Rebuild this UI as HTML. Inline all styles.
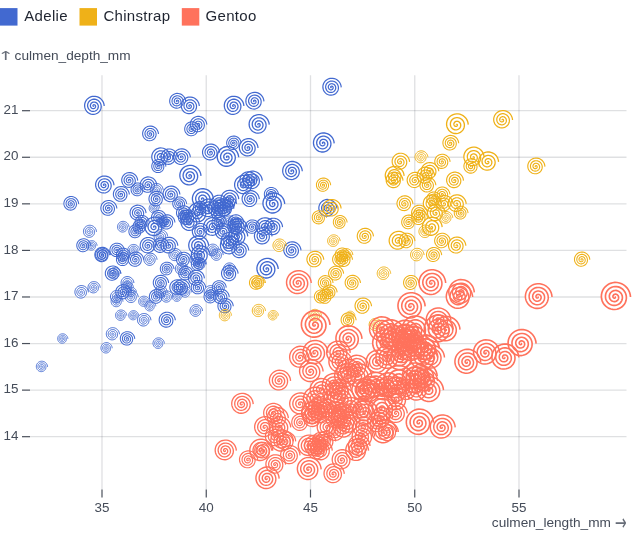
<!DOCTYPE html>
<html lang="en"><head><meta charset="utf-8"><title>Penguins culmen scatter</title>
<style>
html,body{margin:0;padding:0;background:#fff;}
body{width:640px;height:546px;overflow:hidden;font-family:"Liberation Sans", sans-serif;}
svg{display:block;font-family:"Liberation Sans", sans-serif;}
.tick{font-size:13.4px;fill:#454c59;}
.lg{font-size:15px;fill:#1f2430;letter-spacing:0.3px;}
.lab{font-size:13.65px;}
.arr{fill:#676d78;}
.grid line{stroke:#3f4652;stroke-opacity:0.17;stroke-width:1.3;}
.tk line{stroke:#4a505b;stroke-width:1.2;}
.dots use{fill:none;}
</style></head><body>
<svg width="640" height="546" viewBox="0 0 640 546">
<defs><path id="t33" d="M0,0L-0.0007,-0.0046L0,-0.0100L0.0024,-0.0154L0.0066,-0.0203L0.0124,-0.0243L0.0196,-0.0270L0.0280,-0.0280L0.0370,-0.0269L0.0464,-0.0237L0.0557,-0.0181L0.0642,-0.0102L0.0715,0L0.0771,0.0122L0.0806,0.0262L0.0815,0.0415L0.0794,0.0577L0.0742,0.0742L0.0657,0.0904L0.0538,0.1057L0.0388,0.1193L0.0207,0.1307L0,0.1393L-0.0229,0.1445L-0.0474,0.1458L-0.0728,0.1429L-0.0984,0.1355L-0.1234,0.1234L-0.1470,0.1068L-0.1682,0.0857L-0.1864,0.0606L-0.2007,0.0318L-0.2104,0L-0.2150,-0.0340L-0.2139,-0.0695L-0.2069,-0.1054L-0.1938,-0.1408L-0.1745,-0.1745L-0.1494,-0.2056L-0.1187,-0.2330L-0.0831,-0.2558L-0.0432,-0.2729L0,-0.2838L0.0456,-0.2876L0.0923,-0.2840L0.1390,-0.2728L0.1843,-0.2537L0.2271,-0.2271L0.2659,-0.1932L0.2995,-0.1526L0.3269,-0.1062L0.3470,-0.0550L0.3589,0L0.3620,0.0573L0.3558,0.1156L0.3401,0.1733L0.3150,0.2289L0.2807,0.2807L0.2379,0.3274L0.1872,0.3674L0.1298,0.3995L0.0669,0.4225L0,0.4355L-0.0693,0.4378L-0.1394,0.4289L-0.2083,0.4087L-0.2742,0.3774L-0.3354,0.3354L-0.3900,0.2834L-0.4365,0.2224L-0.4734,0.1538L-0.4993,0.0791L-0.5134,0L-0.5148,-0.0815L-0.5032,-0.1635L-0.4784,-0.2438L-0.4408,-0.3202L-0.3908,-0.3908L-0.3295,-0.4536L-0.2581,-0.5066L-0.1781,-0.5482L-0.0914,-0.5772L0,-0.5923L0.0939,-0.5929L0.1880,-0.5785L0.2798,-0.5490L0.3669,-0.5050L0.4470,-0.4470L0.5179,-0.3763L0.5775,-0.2943L0.6241,-0.2028L0.6560,-0.1039L0.6723,0L0.6719,0.1064L0.6547,0.2127L0.6205,0.3162L0.5699,0.4141L0.5039,0.5039L0.4236,0.5830L0.3308,0.6493L0.2277,0.7008L0.1165,0.7358L0,0.7531L-0.1191,0.7518L-0.2377,0.7317L-0.3530,0.6927L-0.4618,0.6356L-0.5613,0.5613L-0.6488,0.4714L-0.7218,0.3678L-0.7782,0.2529L-0.8163,0.1293L-0.8347,0L-0.8325,-0.1319L-0.8094,-0.2630L-0.7656,-0.3901L-0.7018,-0.5099L-0.6192,-0.6192L-0.5196,-0.7151L-0.4051,-0.7950L-0.2783,-0.8564L-0.1422,-0.8975L0,-0.9170L0.1447,-0.9139L0.2885,-0.8878L0.4276,-0.8392L0.5585,-0.7687L0.6777,-0.6777L0.7821,-0.5682L0.8688,-0.4427L0.9352,-0.3039L0.9795,-0.1551L1.0000,0"/><path id="t34" d="M0,0L-0.0032,-0.0032L-0.0057,-0.0078L-0.0068,-0.0134L-0.0064,-0.0197L-0.0041,-0.0261L0,-0.0323L0.0060,-0.0378L0.0137,-0.0421L0.0229,-0.0449L0.0333,-0.0458L0.0445,-0.0445L0.0560,-0.0407L0.0673,-0.0343L0.0780,-0.0253L0.0874,-0.0138L0.0950,0L0.1003,0.0159L0.1028,0.0334L0.1022,0.0521L0.0982,0.0714L0.0906,0.0906L0.0792,0.1091L0.0643,0.1262L0.0458,0.1411L0.0243,0.1533L0,0.1620L-0.0264,0.1668L-0.0543,0.1672L-0.0829,0.1628L-0.1115,0.1534L-0.1390,0.1390L-0.1647,0.1197L-0.1877,0.0956L-0.2070,0.0673L-0.2219,0.0351L-0.2318,0L-0.2359,-0.0374L-0.2339,-0.0760L-0.2255,-0.1149L-0.2105,-0.1530L-0.1891,-0.1891L-0.1614,-0.2221L-0.1279,-0.2511L-0.0893,-0.2749L-0.0463,-0.2926L0,-0.3035L0.0486,-0.3069L0.0983,-0.3025L0.1477,-0.2899L0.1955,-0.2691L0.2404,-0.2404L0.2810,-0.2041L0.3160,-0.1610L0.3443,-0.1119L0.3649,-0.0578L0.3768,0L0.3795,0.0601L0.3725,0.1210L0.3556,0.1812L0.3289,0.2389L0.2927,0.2927L0.2477,0.3410L0.1947,0.3822L0.1349,0.4151L0.0694,0.4385L0,0.4514L-0.0718,0.4533L-0.1442,0.4437L-0.2152,0.4224L-0.2831,0.3896L-0.3459,0.3459L-0.4019,0.2920L-0.4494,0.2290L-0.4869,0.1582L-0.5132,0.0813L-0.5272,0L-0.5283,-0.0837L-0.5160,-0.1676L-0.4902,-0.2498L-0.4513,-0.3279L-0.3999,-0.3999L-0.3369,-0.4637L-0.2637,-0.5176L-0.1819,-0.5598L-0.0933,-0.5890L0,-0.6040L0.0957,-0.6042L0.1914,-0.5892L0.2848,-0.5589L0.3732,-0.5137L0.4545,-0.4545L0.5263,-0.3824L0.5866,-0.2989L0.6335,-0.2058L0.6656,-0.1054L0.6817,0L0.6810,0.1079L0.6632,0.2155L0.6283,0.3201L0.5769,0.4191L0.5097,0.5097L0.4283,0.5896L0.3344,0.6563L0.2301,0.7080L0.1177,0.7431L0,0.7602L-0.1202,0.7587L-0.2398,0.7380L-0.3559,0.6985L-0.4654,0.6406L-0.5655,0.5655L-0.6534,0.4748L-0.7267,0.3703L-0.7833,0.2545L-0.8213,0.1301L-0.8395,0L-0.8370,-0.1326L-0.8135,-0.2643L-0.7693,-0.3920L-0.7050,-0.5122L-0.6218,-0.6218L-0.5216,-0.7179L-0.4065,-0.7978L-0.2792,-0.8592L-0.1426,-0.9002L0,-0.9194L0.1451,-0.9160L0.2891,-0.8897L0.4284,-0.8407L0.5593,-0.7698L0.6786,-0.6786L0.7829,-0.5688L0.8694,-0.4430L0.9357,-0.3040L0.9797,-0.1552L1.0000,0"/><path id="t35" d="M0,0L-0.0043,-0.0007L-0.0089,-0.0029L-0.0130,-0.0066L-0.0162,-0.0118L-0.0181,-0.0181L-0.0184,-0.0253L-0.0168,-0.0330L-0.0133,-0.0408L-0.0076,-0.0483L0,-0.0549L0.0095,-0.0602L0.0207,-0.0638L0.0332,-0.0652L0.0467,-0.0643L0.0606,-0.0606L0.0744,-0.0541L0.0876,-0.0446L0.0996,-0.0324L0.1098,-0.0174L0.1176,0L0.1226,0.0194L0.1242,0.0404L0.1222,0.0623L0.1163,0.0845L0.1063,0.1063L0.0922,0.1270L0.0743,0.1458L0.0526,0.1619L0.0277,0.1748L0,0.1837L-0.0298,0.1881L-0.0609,0.1876L-0.0926,0.1818L-0.1239,0.1705L-0.1539,0.1539L-0.1816,0.1320L-0.2061,0.1050L-0.2266,0.0736L-0.2421,0.0383L-0.2521,0L-0.2558,-0.0405L-0.2530,-0.0822L-0.2432,-0.1239L-0.2265,-0.1645L-0.2029,-0.2029L-0.1728,-0.2378L-0.1367,-0.2682L-0.0952,-0.2930L-0.0493,-0.3112L0,-0.3222L0.0515,-0.3252L0.1040,-0.3199L0.1560,-0.3061L0.2061,-0.2837L0.2530,-0.2530L0.2953,-0.2145L0.3316,-0.1690L0.3608,-0.1172L0.3818,-0.0605L0.3938,0L0.3960,0.0627L0.3882,0.1261L0.3702,0.1886L0.3420,0.2485L0.3041,0.3041L0.2570,0.3538L0.2018,0.3961L0.1396,0.4298L0.0718,0.4535L0,0.4665L-0.0741,0.4680L-0.1487,0.4576L-0.2218,0.4353L-0.2915,0.4012L-0.3559,0.3559L-0.4132,0.3002L-0.4616,0.2352L-0.4998,0.1624L-0.5263,0.0834L-0.5403,0L-0.5410,-0.0857L-0.5280,-0.1716L-0.5013,-0.2554L-0.4612,-0.3351L-0.4084,-0.4084L-0.3439,-0.4733L-0.2690,-0.5280L-0.1854,-0.5707L-0.0950,-0.6001L0,-0.6151L0.0974,-0.6149L0.1947,-0.5993L0.2895,-0.5682L0.3792,-0.5220L0.4616,-0.4616L0.5342,-0.3881L0.5951,-0.3032L0.6424,-0.2087L0.6746,-0.1069L0.6907,0L0.6897,0.1092L0.6713,0.2181L0.6357,0.3239L0.5834,0.4239L0.5153,0.5153L0.4328,0.5957L0.3378,0.6629L0.2323,0.7149L0.1188,0.7500L0,0.7670L-0.1212,0.7651L-0.2418,0.7441L-0.3587,0.7039L-0.4689,0.6454L-0.5695,0.5695L-0.6578,0.4779L-0.7314,0.3727L-0.7880,0.2560L-0.8260,0.1308L-0.8440,0L-0.8413,-0.1332L-0.8175,-0.2656L-0.7727,-0.3937L-0.7079,-0.5143L-0.6242,-0.6242L-0.5235,-0.7205L-0.4078,-0.8004L-0.2800,-0.8618L-0.1430,-0.9027L0,-0.9217L0.1454,-0.9181L0.2896,-0.8914L0.4291,-0.8421L0.5601,-0.7710L0.6794,-0.6794L0.7836,-0.5693L0.8700,-0.4433L0.9361,-0.3042L0.9799,-0.1552L1.0000,0"/><path id="t36" d="M0,0L-0.0038,0.0019L-0.0086,0.0028L-0.0140,0.0022L-0.0194,0L-0.0245,-0.0039L-0.0288,-0.0094L-0.0320,-0.0163L-0.0337,-0.0245L-0.0335,-0.0335L-0.0313,-0.0430L-0.0268,-0.0526L-0.0201,-0.0618L-0.0111,-0.0701L0,-0.0770L0.0130,-0.0821L0.0276,-0.0848L0.0433,-0.0850L0.0597,-0.0821L0.0762,-0.0762L0.0922,-0.0670L0.1072,-0.0546L0.1204,-0.0391L0.1313,-0.0208L0.1393,0L0.1439,0.0228L0.1447,0.0470L0.1413,0.0720L0.1335,0.0970L0.1213,0.1213L0.1047,0.1441L0.0838,0.1645L0.0591,0.1818L0.0309,0.1953L0,0.2044L-0.0330,0.2084L-0.0673,0.2070L-0.1018,0.1998L-0.1358,0.1869L-0.1681,0.1681L-0.1977,0.1436L-0.2237,0.1140L-0.2452,0.0797L-0.2614,0.0414L-0.2714,0L-0.2748,-0.0435L-0.2710,-0.0881L-0.2600,-0.1325L-0.2416,-0.1755L-0.2160,-0.2160L-0.1836,-0.2527L-0.1449,-0.2845L-0.1008,-0.3102L-0.0521,-0.3289L0,-0.3400L0.0543,-0.3426L0.1093,-0.3365L0.1638,-0.3215L0.2162,-0.2975L0.2650,-0.2650L0.3088,-0.2244L0.3464,-0.1765L0.3764,-0.1223L0.3978,-0.0630L0.4098,0L0.4117,0.0652L0.4032,0.1310L0.3840,0.1957L0.3544,0.2575L0.3148,0.3148L0.2658,0.3659L0.2086,0.4093L0.1442,0.4437L0.0741,0.4678L0,0.4808L-0.0763,0.4819L-0.1530,0.4709L-0.2280,0.4475L-0.2994,0.4122L-0.3653,0.3653L-0.4238,0.3079L-0.4732,0.2411L-0.5119,0.1663L-0.5388,0.0853L-0.5527,0L-0.5531,-0.0876L-0.5395,-0.1753L-0.5119,-0.2608L-0.4706,-0.3419L-0.4165,-0.4165L-0.3505,-0.4824L-0.2740,-0.5378L-0.1888,-0.5810L-0.0967,-0.6106L0,-0.6255L0.0990,-0.6251L0.1978,-0.6088L0.2940,-0.5769L0.3849,-0.5298L0.4683,-0.4683L0.5417,-0.3936L0.6032,-0.3073L0.6508,-0.2115L0.6832,-0.1082L0.6991,0L0.6978,0.1105L0.6790,0.2206L0.6427,0.3275L0.5896,0.4283L0.5205,0.5205L0.4371,0.6016L0.3410,0.6692L0.2344,0.7214L0.1198,0.7565L0,0.7734L-0.1222,0.7712L-0.2436,0.7497L-0.3613,0.7091L-0.4722,0.6499L-0.5733,0.5733L-0.6620,0.4810L-0.7358,0.3749L-0.7925,0.2575L-0.8305,0.1315L-0.8483,0L-0.8453,-0.1339L-0.8211,-0.2668L-0.7760,-0.3954L-0.7107,-0.5164L-0.6265,-0.6265L-0.5252,-0.7229L-0.4091,-0.8029L-0.2808,-0.8642L-0.1433,-0.9050L0,-0.9239L0.1457,-0.9200L0.2902,-0.8931L0.4298,-0.8435L0.5609,-0.7720L0.6801,-0.6801L0.7843,-0.5699L0.8706,-0.4436L0.9365,-0.3043L0.9801,-0.1552L1.0000,0"/><path id="t37" d="M0,0L-0.0019,0.0037L-0.0052,0.0071L-0.0097,0.0097L-0.0152,0.0111L-0.0215,0.0109L-0.0280,0.0091L-0.0344,0.0055L-0.0404,0L-0.0454,-0.0072L-0.0491,-0.0159L-0.0511,-0.0260L-0.0510,-0.0371L-0.0487,-0.0487L-0.0439,-0.0605L-0.0366,-0.0718L-0.0267,-0.0823L-0.0145,-0.0914L0,-0.0985L0.0164,-0.1033L0.0342,-0.1052L0.0530,-0.1040L0.0722,-0.0994L0.0912,-0.0912L0.1094,-0.0795L0.1260,-0.0642L0.1404,-0.0456L0.1520,-0.0241L0.1602,0L0.1644,0.0260L0.1643,0.0534L0.1596,0.0813L0.1501,0.1090L0.1357,0.1357L0.1166,0.1604L0.0929,0.1824L0.0653,0.2008L0.0340,0.2150L0,0.2241L-0.0361,0.2278L-0.0733,0.2255L-0.1106,0.2171L-0.1471,0.2024L-0.1816,0.1816L-0.2130,0.1548L-0.2405,0.1225L-0.2630,0.0855L-0.2797,0.0443L-0.2898,0L-0.2928,-0.0464L-0.2883,-0.0937L-0.2760,-0.1406L-0.2560,-0.1860L-0.2285,-0.2285L-0.1939,-0.2669L-0.1528,-0.2999L-0.1061,-0.3265L-0.0548,-0.3458L0,-0.3568L0.0569,-0.3591L0.1145,-0.3523L0.1712,-0.3361L0.2257,-0.3107L0.2764,-0.2764L0.3217,-0.2337L0.3604,-0.1836L0.3912,-0.1271L0.4131,-0.0654L0.4251,0L0.4266,0.0676L0.4174,0.1356L0.3972,0.2024L0.3662,0.2661L0.3250,0.3250L0.2742,0.3774L0.2149,0.4219L0.1485,0.4569L0.0762,0.4814L0,0.4943L-0.0784,0.4951L-0.1571,0.4834L-0.2339,0.4591L-0.3070,0.4225L-0.3743,0.3743L-0.4339,0.3152L-0.4841,0.2467L-0.5234,0.1701L-0.5506,0.0872L-0.5645,0L-0.5645,-0.0894L-0.5503,-0.1788L-0.5218,-0.2659L-0.4796,-0.3484L-0.4242,-0.4242L-0.3568,-0.4910L-0.2788,-0.5471L-0.1920,-0.5908L-0.0983,-0.6206L0,-0.6354L0.1005,-0.6346L0.2008,-0.6179L0.2982,-0.5853L0.3903,-0.5372L0.4746,-0.4746L0.5488,-0.3987L0.6108,-0.3112L0.6588,-0.2141L0.6913,-0.1095L0.7071,0L0.7055,0.1117L0.6862,0.2230L0.6493,0.3308L0.5954,0.4326L0.5255,0.5255L0.4411,0.6071L0.3440,0.6751L0.2364,0.7275L0.1208,0.7627L0,0.7794L-0.1231,0.7770L-0.2454,0.7551L-0.3638,0.7139L-0.4753,0.6541L-0.5769,0.5769L-0.6659,0.4838L-0.7399,0.3770L-0.7968,0.2589L-0.8347,0.1322L-0.8524,0L-0.8491,-0.1345L-0.8246,-0.2679L-0.7791,-0.3970L-0.7133,-0.5183L-0.6287,-0.6287L-0.5269,-0.7252L-0.4103,-0.8053L-0.2816,-0.8666L-0.1437,-0.9072L0,-0.9259L0.1460,-0.9218L0.2907,-0.8947L0.4304,-0.8448L0.5616,-0.7730L0.6809,-0.6809L0.7850,-0.5703L0.8712,-0.4439L0.9369,-0.3044L0.9803,-0.1553L1.0000,0"/><path id="t38" d="M0,0L0.0006,0.0039L0,0.0085L-0.0021,0.0132L-0.0057,0.0174L-0.0106,0.0208L-0.0168,0.0231L-0.0239,0.0239L-0.0317,0.0230L-0.0398,0.0203L-0.0477,0.0155L-0.0550,0.0087L-0.0612,0L-0.0661,-0.0105L-0.0690,-0.0224L-0.0698,-0.0355L-0.0680,-0.0494L-0.0635,-0.0635L-0.0562,-0.0774L-0.0461,-0.0905L-0.0332,-0.1022L-0.0177,-0.1120L0,-0.1193L0.0196,-0.1237L0.0406,-0.1249L0.0623,-0.1223L0.0843,-0.1160L0.1057,-0.1057L0.1258,-0.0914L0.1440,-0.0734L0.1596,-0.0519L0.1718,-0.0272L0.1802,0L0.1841,0.0292L0.1831,0.0595L0.1771,0.0903L0.1659,0.1205L0.1494,0.1494L0.1279,0.1761L0.1017,0.1995L0.0712,0.2190L0.0370,0.2337L0,0.2430L-0.0390,0.2463L-0.0790,0.2432L-0.1190,0.2336L-0.1578,0.2173L-0.1944,0.1944L-0.2277,0.1654L-0.2565,0.1307L-0.2799,0.0910L-0.2971,0.0471L-0.3073,0L-0.3100,-0.0491L-0.3047,-0.0990L-0.2912,-0.1484L-0.2697,-0.1960L-0.2404,-0.2404L-0.2037,-0.2803L-0.1603,-0.3146L-0.1112,-0.3421L-0.0573,-0.3618L0,-0.3729L0.0594,-0.3749L0.1193,-0.3673L0.1783,-0.3500L0.2348,-0.3232L0.2872,-0.2872L0.3340,-0.2426L0.3738,-0.1904L0.4053,-0.1317L0.4275,-0.0677L0.4396,0L0.4408,0.0698L0.4309,0.1400L0.4097,0.2087L0.3774,0.2742L0.3347,0.3347L0.2822,0.3884L0.2210,0.4338L0.1525,0.4694L0.0783,0.4942L0,0.5072L-0.0804,0.5077L-0.1609,0.4953L-0.2395,0.4701L-0.3142,0.4324L-0.3828,0.3828L-0.4435,0.3222L-0.4945,0.2520L-0.5344,0.1736L-0.5617,0.0890L-0.5756,0L-0.5753,-0.0911L-0.5606,-0.1821L-0.5313,-0.2707L-0.4880,-0.3546L-0.4314,-0.4314L-0.3627,-0.4992L-0.2833,-0.5560L-0.1950,-0.6000L-0.0998,-0.6300L0,-0.6448L0.1020,-0.6437L0.2036,-0.6265L0.3022,-0.5931L0.3954,-0.5442L0.4806,-0.4806L0.5555,-0.4036L0.6180,-0.3149L0.6664,-0.2165L0.6990,-0.1107L0.7147,0L0.7128,0.1129L0.6931,0.2252L0.6556,0.3340L0.6009,0.4366L0.5302,0.5302L0.4449,0.6124L0.3468,0.6807L0.2383,0.7333L0.1217,0.7685L0,0.7852L-0.1239,0.7825L-0.2470,0.7602L-0.3661,0.7185L-0.4782,0.6582L-0.5803,0.5803L-0.6697,0.4865L-0.7439,0.3790L-0.8008,0.2602L-0.8387,0.1328L-0.8563,0L-0.8528,-0.1351L-0.8279,-0.2690L-0.7820,-0.3985L-0.7159,-0.5201L-0.6307,-0.6307L-0.5285,-0.7274L-0.4115,-0.8075L-0.2823,-0.8688L-0.1440,-0.9094L0,-0.9279L0.1463,-0.9236L0.2912,-0.8961L0.4310,-0.8460L0.5623,-0.7740L0.6816,-0.6816L0.7856,-0.5708L0.8717,-0.4441L0.9373,-0.3045L0.9805,-0.1553L1.0000,0"/><path id="t39" d="M0,0L0.0027,0.0027L0.0049,0.0067L0.0059,0.0115L0.0055,0.0169L0.0036,0.0224L0,0.0278L-0.0051,0.0325L-0.0118,0.0362L-0.0197,0.0386L-0.0286,0.0394L-0.0382,0.0382L-0.0482,0.0350L-0.0579,0.0295L-0.0671,0.0218L-0.0751,0.0119L-0.0817,0L-0.0862,-0.0137L-0.0884,-0.0287L-0.0879,-0.0448L-0.0845,-0.0614L-0.0779,-0.0779L-0.0681,-0.0938L-0.0553,-0.1085L-0.0394,-0.1213L-0.0209,-0.1318L0,-0.1393L0.0227,-0.1434L0.0467,-0.1438L0.0713,-0.1400L0.0959,-0.1319L0.1195,-0.1195L0.1416,-0.1029L0.1614,-0.0822L0.1780,-0.0578L0.1908,-0.0302L0.1993,0L0.2029,0.0321L0.2012,0.0654L0.1939,0.0988L0.1810,0.1315L0.1626,0.1626L0.1388,0.1910L0.1100,0.2159L0.0768,0.2364L0.0399,0.2516L0,0.2610L-0.0418,0.2639L-0.0845,0.2601L-0.1270,0.2493L-0.1681,0.2314L-0.2067,0.2067L-0.2416,0.1755L-0.2717,0.1385L-0.2961,0.0962L-0.3137,0.0497L-0.3240,0L-0.3263,-0.0517L-0.3203,-0.1041L-0.3058,-0.1558L-0.2828,-0.2055L-0.2517,-0.2517L-0.2130,-0.2932L-0.1674,-0.3286L-0.1160,-0.3569L-0.0597,-0.3770L0,-0.3882L0.0617,-0.3898L0.1240,-0.3815L0.1851,-0.3632L0.2434,-0.3351L0.2975,-0.2975L0.3456,-0.2511L0.3865,-0.1969L0.4187,-0.1361L0.4413,-0.0699L0.4534,0L0.4543,0.0720L0.4437,0.1442L0.4215,0.2148L0.3881,0.2820L0.3439,0.3439L0.2897,0.3988L0.2268,0.4451L0.1564,0.4814L0.0802,0.5065L0,0.5194L-0.0823,0.5196L-0.1646,0.5066L-0.2449,0.4806L-0.3210,0.4418L-0.3908,0.3908L-0.4526,0.3288L-0.5044,0.2570L-0.5448,0.1770L-0.5724,0.0907L-0.5862,0L-0.5856,-0.0928L-0.5703,-0.1853L-0.5403,-0.2753L-0.4960,-0.3604L-0.4383,-0.4383L-0.3683,-0.5070L-0.2876,-0.5644L-0.1978,-0.6088L-0.1012,-0.6390L0,-0.6537L0.1033,-0.6524L0.2062,-0.6347L0.3060,-0.6006L0.4002,-0.5509L0.4863,-0.4863L0.5619,-0.4082L0.6249,-0.3184L0.6735,-0.2188L0.7062,-0.1119L0.7219,0L0.7198,0.1140L0.6996,0.2273L0.6615,0.3371L0.6062,0.4404L0.5347,0.5347L0.4485,0.6173L0.3495,0.6860L0.2401,0.7388L0.1226,0.7741L0,0.7906L-0.1248,0.7877L-0.2486,0.7651L-0.3683,0.7229L-0.4810,0.6620L-0.5835,0.5835L-0.6732,0.4891L-0.7476,0.3809L-0.8046,0.2614L-0.8425,0.1334L-0.8599,0L-0.8562,-0.1356L-0.8311,-0.2700L-0.7848,-0.3999L-0.7182,-0.5218L-0.6327,-0.6327L-0.5300,-0.7295L-0.4126,-0.8097L-0.2830,-0.8709L-0.1443,-0.9114L0,-0.9297L0.1465,-0.9252L0.2916,-0.8975L0.4316,-0.8471L0.5630,-0.7749L0.6822,-0.6822L0.7862,-0.5712L0.8722,-0.4444L0.9377,-0.3047L0.9807,-0.1553L1.0000,0"/><path id="t40" d="M0,0L0.0037,0.0006L0.0077,0.0025L0.0112,0.0057L0.0140,0.0102L0.0156,0.0156L0.0159,0.0218L0.0145,0.0285L0.0115,0.0352L0.0066,0.0417L0,0.0474L-0.0082,0.0520L-0.0179,0.0551L-0.0287,0.0563L-0.0403,0.0555L-0.0523,0.0523L-0.0643,0.0467L-0.0757,0.0385L-0.0860,0.0279L-0.0948,0.0150L-0.1015,0L-0.1058,-0.0168L-0.1072,-0.0348L-0.1055,-0.0538L-0.1004,-0.0729L-0.0918,-0.0918L-0.0796,-0.1096L-0.0641,-0.1258L-0.0454,-0.1398L-0.0239,-0.1509L0,-0.1586L0.0257,-0.1624L0.0526,-0.1619L0.0800,-0.1569L0.1070,-0.1472L0.1329,-0.1329L0.1568,-0.1139L0.1780,-0.0907L0.1956,-0.0636L0.2091,-0.0331L0.2176,0L0.2209,0.0350L0.2184,0.0710L0.2100,0.1070L0.1955,0.1421L0.1752,0.1752L0.1492,0.2053L0.1180,0.2316L0.0822,0.2530L0.0426,0.2687L0,0.2782L-0.0445,0.2808L-0.0898,0.2762L-0.1347,0.2643L-0.1780,0.2449L-0.2184,0.2184L-0.2549,0.1852L-0.2863,0.1459L-0.3115,0.1012L-0.3296,0.0522L-0.3400,0L-0.3419,-0.0542L-0.3352,-0.1089L-0.3196,-0.1629L-0.2953,-0.2145L-0.2625,-0.2625L-0.2219,-0.3054L-0.1743,-0.3420L-0.1206,-0.3711L-0.0620,-0.3916L0,-0.4028L0.0640,-0.4041L0.1284,-0.3951L0.1915,-0.3758L0.2517,-0.3464L0.3073,-0.3073L0.3567,-0.2592L0.3986,-0.2031L0.4315,-0.1402L0.4544,-0.0720L0.4665,0L0.4671,0.0740L0.4559,0.1481L0.4328,0.2205L0.3982,0.2893L0.3526,0.3526L0.2969,0.4087L0.2323,0.4558L0.1601,0.4927L0.0821,0.5181L0,0.5310L-0.0841,0.5309L-0.1681,0.5174L-0.2499,0.4905L-0.3274,0.4507L-0.3985,0.3985L-0.4612,0.3351L-0.5138,0.2618L-0.5547,0.1802L-0.5825,0.0923L-0.5963,0L-0.5954,-0.0943L-0.5796,-0.1883L-0.5489,-0.2797L-0.5037,-0.3660L-0.4449,-0.4449L-0.3737,-0.5144L-0.2916,-0.5724L-0.2005,-0.6172L-0.1026,-0.6475L0,-0.6622L0.1046,-0.6606L0.2087,-0.6424L0.3097,-0.6078L0.4048,-0.5572L0.4917,-0.4917L0.5680,-0.4127L0.6315,-0.3218L0.6804,-0.2211L0.7132,-0.1130L0.7287,0L0.7264,0.1150L0.7058,0.2293L0.6672,0.3399L0.6112,0.4441L0.5390,0.5390L0.4520,0.6221L0.3521,0.6911L0.2418,0.7441L0.1234,0.7794L0,0.7958L-0.1255,0.7927L-0.2501,0.7697L-0.3705,0.7271L-0.4836,0.6656L-0.5866,0.5866L-0.6766,0.4916L-0.7512,0.3827L-0.8082,0.2626L-0.8461,0.1340L-0.8634,0L-0.8595,-0.1361L-0.8340,-0.2710L-0.7874,-0.4012L-0.7205,-0.5235L-0.6345,-0.6345L-0.5315,-0.7315L-0.4136,-0.8117L-0.2836,-0.8729L-0.1446,-0.9133L0,-0.9315L0.1468,-0.9267L0.2921,-0.8989L0.4322,-0.8482L0.5636,-0.7757L0.6828,-0.6828L0.7868,-0.5716L0.8726,-0.4446L0.9380,-0.3048L0.9809,-0.1554L1.0000,0"/><path id="t41" d="M0,0L0.0033,-0.0017L0.0075,-0.0024L0.0121,-0.0019L0.0168,0L0.0212,0.0034L0.0250,0.0081L0.0277,0.0141L0.0292,0.0212L0.0290,0.0290L0.0271,0.0373L0.0232,0.0456L0.0174,0.0536L0.0096,0.0608L0,0.0667L-0.0113,0.0711L-0.0239,0.0735L-0.0375,0.0736L-0.0517,0.0712L-0.0660,0.0660L-0.0799,0.0581L-0.0929,0.0473L-0.1044,0.0339L-0.1138,0.0180L-0.1208,0L-0.1247,-0.0198L-0.1254,-0.0407L-0.1225,-0.0624L-0.1157,-0.0841L-0.1051,-0.1051L-0.0907,-0.1249L-0.0726,-0.1426L-0.0512,-0.1576L-0.0268,-0.1693L0,-0.1771L0.0286,-0.1806L0.0583,-0.1794L0.0883,-0.1732L0.1177,-0.1620L0.1457,-0.1457L0.1714,-0.1245L0.1939,-0.0988L0.2125,-0.0691L0.2265,-0.0359L0.2352,0L0.2381,0.0377L0.2349,0.0763L0.2254,0.1148L0.2094,0.1521L0.1872,0.1872L0.1591,0.2190L0.1256,0.2465L0.0873,0.2688L0.0452,0.2851L0,0.2946L-0.0470,0.2970L-0.0948,0.2917L-0.1420,0.2786L-0.1874,0.2579L-0.2297,0.2297L-0.2677,0.1945L-0.3002,0.1530L-0.3262,0.1060L-0.3448,0.0546L-0.3552,0L-0.3569,-0.0565L-0.3494,-0.1135L-0.3328,-0.1696L-0.3072,-0.2232L-0.2728,-0.2728L-0.2304,-0.3171L-0.1808,-0.3548L-0.1249,-0.3845L-0.0642,-0.4055L0,-0.4167L0.0662,-0.4177L0.1326,-0.4081L0.1976,-0.3879L0.2595,-0.3572L0.3166,-0.3166L0.3673,-0.2669L0.4101,-0.2090L0.4437,-0.1442L0.4670,-0.0740L0.4790,0L0.4793,0.0759L0.4675,0.1519L0.4436,0.2260L0.4079,0.2964L0.3610,0.3610L0.3038,0.4181L0.2375,0.4661L0.1636,0.5036L0.0838,0.5292L0,0.5421L-0.0858,0.5417L-0.1715,0.5277L-0.2548,0.5000L-0.3336,0.4592L-0.4058,0.4058L-0.4695,0.3411L-0.5228,0.2664L-0.5641,0.1833L-0.5921,0.0938L-0.6059,0L-0.6048,-0.0958L-0.5885,-0.1912L-0.5570,-0.2838L-0.5110,-0.3712L-0.4512,-0.4512L-0.3788,-0.5214L-0.2955,-0.5800L-0.2031,-0.6252L-0.1038,-0.6557L0,-0.6703L0.1059,-0.6684L0.2111,-0.6498L0.3131,-0.6145L0.4092,-0.5632L0.4969,-0.4969L0.5738,-0.4169L0.6377,-0.3249L0.6869,-0.2232L0.7198,-0.1140L0.7353,0L0.7326,0.1160L0.7117,0.2312L0.6726,0.3427L0.6160,0.4475L0.5430,0.5430L0.4552,0.6266L0.3546,0.6959L0.2434,0.7490L0.1242,0.7844L0,0.8007L-0.1263,0.7974L-0.2515,0.7741L-0.3725,0.7310L-0.4861,0.6691L-0.5895,0.5895L-0.6798,0.4939L-0.7546,0.3845L-0.8117,0.2637L-0.8495,0.1345L-0.8667,0L-0.8626,-0.1366L-0.8369,-0.2719L-0.7900,-0.4025L-0.7226,-0.5250L-0.6363,-0.6363L-0.5328,-0.7334L-0.4146,-0.8136L-0.2842,-0.8748L-0.1449,-0.9151L0,-0.9331L0.1470,-0.9282L0.2925,-0.9002L0.4327,-0.8493L0.5642,-0.7765L0.6834,-0.6834L0.7873,-0.5720L0.8731,-0.4449L0.9383,-0.3049L0.9811,-0.1554L1.0000,0"/></defs>
<rect x="0" y="8.1" width="17.5" height="17.5" fill="#4269d0"/>
<text class="lg" x="24.3" y="21.3">Adelie</text>
<rect x="79.5" y="8.1" width="17.5" height="17.5" fill="#efb118"/>
<text class="lg" x="103.4" y="21.3">Chinstrap</text>
<rect x="181.8" y="8.1" width="17.5" height="17.5" fill="#ff725c"/>
<text class="lg" x="205.6" y="21.3">Gentoo</text>
<text class="tick lab" x="14.6" y="60.1">culmen_depth_mm</text>
<text class="tick arr" transform="translate(5.3,60) scale(1.5,0.93)" text-anchor="middle" font-family="DejaVu Sans, sans-serif" font-size="13">↑</text>
<g class="grid">
<line x1="30" x2="626.5" y1="436.69" y2="436.69"/>
<line x1="30" x2="626.5" y1="390.12" y2="390.12"/>
<line x1="30" x2="626.5" y1="343.55" y2="343.55"/>
<line x1="30" x2="626.5" y1="296.98" y2="296.98"/>
<line x1="30" x2="626.5" y1="250.41" y2="250.41"/>
<line x1="30" x2="626.5" y1="203.84" y2="203.84"/>
<line x1="30" x2="626.5" y1="157.27" y2="157.27"/>
<line x1="30" x2="626.5" y1="110.70" y2="110.70"/>
<line y1="75.3" y2="489.5" x1="102.00" x2="102.00"/>
<line y1="75.3" y2="489.5" x1="206.25" x2="206.25"/>
<line y1="75.3" y2="489.5" x1="310.50" x2="310.50"/>
<line y1="75.3" y2="489.5" x1="414.75" x2="414.75"/>
<line y1="75.3" y2="489.5" x1="519.00" x2="519.00"/>
</g>
<g class="tk">
<line x1="22" x2="30" y1="436.69" y2="436.69"/>
<line x1="22" x2="30" y1="390.12" y2="390.12"/>
<line x1="22" x2="30" y1="343.55" y2="343.55"/>
<line x1="22" x2="30" y1="296.98" y2="296.98"/>
<line x1="22" x2="30" y1="250.41" y2="250.41"/>
<line x1="22" x2="30" y1="203.84" y2="203.84"/>
<line x1="22" x2="30" y1="157.27" y2="157.27"/>
<line x1="22" x2="30" y1="110.70" y2="110.70"/>
<line y1="489.5" y2="497.5" x1="102.00" x2="102.00"/>
<line y1="489.5" y2="497.5" x1="206.25" x2="206.25"/>
<line y1="489.5" y2="497.5" x1="310.50" x2="310.50"/>
<line y1="489.5" y2="497.5" x1="414.75" x2="414.75"/>
<line y1="489.5" y2="497.5" x1="519.00" x2="519.00"/>
</g>
<text class="tick" x="18.5" y="439.89" text-anchor="end">14</text>
<text class="tick" x="18.5" y="393.32" text-anchor="end">15</text>
<text class="tick" x="18.5" y="346.75" text-anchor="end">16</text>
<text class="tick" x="18.5" y="300.18" text-anchor="end">17</text>
<text class="tick" x="18.5" y="253.61" text-anchor="end">18</text>
<text class="tick" x="18.5" y="207.04" text-anchor="end">19</text>
<text class="tick" x="18.5" y="160.47" text-anchor="end">20</text>
<text class="tick" x="18.5" y="113.90" text-anchor="end">21</text>
<text class="tick" x="102.00" y="511.6" text-anchor="middle">35</text>
<text class="tick" x="206.25" y="511.6" text-anchor="middle">40</text>
<text class="tick" x="310.50" y="511.6" text-anchor="middle">45</text>
<text class="tick" x="414.75" y="511.6" text-anchor="middle">50</text>
<text class="tick" x="519.00" y="511.6" text-anchor="middle">55</text>
<text class="tick lab" x="610.9" y="527" text-anchor="end">culmen_length_mm</text>
<text class="tick arr" transform="translate(620.8,529.8) scale(1.05,1.65)" text-anchor="middle" font-family="DejaVu Sans, sans-serif" font-size="13">→</text>
<g fill="#fff" stroke="none">
<use href="#t39" transform="translate(187.49,217.81) scale(8.42)"/>
<use href="#t39" transform="translate(195.82,278.35) scale(8.58)"/>
<use href="#t40" transform="translate(212.50,250.41) scale(6.72)"/>
<use href="#t40" transform="translate(137.45,189.87) scale(7.41)"/>
<use href="#t39" transform="translate(191.65,129.33) scale(8.08)"/>
<use href="#t39" transform="translate(183.31,259.72) scale(8.00)"/>
<use href="#t37" transform="translate(189.57,175.90) scale(11.41)"/>
<use href="#t40" transform="translate(83.24,245.75) scale(7.49)"/>
<use href="#t38" transform="translate(247.95,147.96) scale(10.05)"/>
<use href="#t40" transform="translate(160.38,292.32) scale(6.90)"/>
<use href="#t39" transform="translate(160.38,283.01) scale(8.25)"/>
<use href="#t40" transform="translate(229.19,269.04) scale(6.55)"/>
<use href="#t39" transform="translate(177.06,101.39) scale(8.58)"/>
<use href="#t38" transform="translate(93.66,106.04) scale(10.54)"/>
<use href="#t39" transform="translate(135.36,259.72) scale(8.25)"/>
<use href="#t40" transform="translate(179.15,203.84) scale(7.41)"/>
<use href="#t37" transform="translate(258.38,124.67) scale(10.85)"/>
<use href="#t40" transform="translate(89.49,231.78) scale(6.98)"/>
<use href="#t38" transform="translate(331.35,87.42) scale(9.89)"/>
<use href="#t40" transform="translate(160.38,236.44) scale(7.24)"/>
<use href="#t39" transform="translate(158.30,217.81) scale(7.92)"/>
<use href="#t39" transform="translate(120.76,194.53) scale(8.58)"/>
<use href="#t39" transform="translate(168.72,245.75) scale(9.08)"/>
<use href="#t39" transform="translate(181.23,287.67) scale(8.58)"/>
<use href="#t39" transform="translate(108.25,208.50) scale(8.58)"/>
<use href="#t40" transform="translate(218.76,222.47) scale(7.75)"/>
<use href="#t40" transform="translate(216.68,255.07) scale(6.55)"/>
<use href="#t40" transform="translate(162.46,222.47) scale(6.38)"/>
<use href="#t39" transform="translate(216.68,208.50) scale(9.08)"/>
<use href="#t40" transform="translate(195.82,310.95) scale(6.72)"/>
<use href="#t39" transform="translate(147.87,245.75) scale(8.91)"/>
<use href="#t40" transform="translate(195.82,259.72) scale(6.90)"/>
<use href="#t39" transform="translate(225.01,208.50) scale(8.91)"/>
<use href="#t40" transform="translate(131.19,296.98) scale(6.98)"/>
<use href="#t38" transform="translate(189.57,106.04) scale(9.73)"/>
<use href="#t39" transform="translate(181.23,157.27) scale(9.08)"/>
<use href="#t40" transform="translate(252.12,227.12) scale(7.75)"/>
<use href="#t40" transform="translate(156.21,189.87) scale(6.90)"/>
<use href="#t37" transform="translate(202.08,199.18) scale(11.33)"/>
<use href="#t40" transform="translate(133.28,250.41) scale(6.38)"/>
<use href="#t39" transform="translate(222.93,231.78) scale(8.91)"/>
<use href="#t40" transform="translate(122.85,227.12) scale(6.20)"/>
<use href="#t38" transform="translate(291.74,171.24) scale(10.54)"/>
<use href="#t40" transform="translate(143.70,301.64) scale(5.85)"/>
<use href="#t37" transform="translate(197.91,213.15) scale(11.17)"/>
<use href="#t40" transform="translate(229.19,203.84) scale(7.33)"/>
<use href="#t40" transform="translate(154.12,208.50) scale(5.76)"/>
<use href="#t40" transform="translate(122.85,255.07) scale(7.41)"/>
<use href="#t38" transform="translate(254.20,101.39) scale(9.73)"/>
<use href="#t40" transform="translate(197.91,264.38) scale(7.58)"/>
<use href="#t38" transform="translate(208.34,208.50) scale(10.22)"/>
<use href="#t40" transform="translate(102.00,255.07) scale(7.41)"/>
<use href="#t38" transform="translate(247.95,180.56) scale(9.41)"/>
<use href="#t40" transform="translate(91.58,245.75) scale(5.50)"/>
<use href="#t39" transform="translate(235.44,222.47) scale(8.25)"/>
<use href="#t40" transform="translate(185.40,273.69) scale(7.75)"/>
<use href="#t39" transform="translate(218.76,213.15) scale(8.58)"/>
<use href="#t40" transform="translate(133.28,315.61) scale(5.32)"/>
<use href="#t39" transform="translate(156.21,199.18) scale(8.42)"/>
<use href="#t40" transform="translate(116.60,301.64) scale(6.38)"/>
<use href="#t38" transform="translate(233.35,106.04) scale(10.54)"/>
<use href="#t39" transform="translate(156.21,296.98) scale(7.92)"/>
<use href="#t38" transform="translate(229.19,241.10) scale(9.41)"/>
<use href="#t40" transform="translate(131.19,292.32) scale(5.32)"/>
<use href="#t39" transform="translate(239.61,250.41) scale(9.08)"/>
<use href="#t40" transform="translate(112.42,334.24) scale(7.07)"/>
<use href="#t38" transform="translate(229.19,199.18) scale(9.57)"/>
<use href="#t40" transform="translate(120.76,315.61) scale(6.03)"/>
<use href="#t38" transform="translate(243.78,185.21) scale(10.70)"/>
<use href="#t39" transform="translate(70.72,203.84) scale(7.92)"/>
<use href="#t39" transform="translate(200.00,231.78) scale(8.91)"/>
<use href="#t40" transform="translate(197.91,287.67) scale(7.75)"/>
<use href="#t38" transform="translate(327.18,208.50) scale(9.73)"/>
<use href="#t39" transform="translate(112.42,273.69) scale(8.25)"/>
<use href="#t38" transform="translate(264.63,227.12) scale(10.05)"/>
<use href="#t39" transform="translate(225.01,306.29) scale(8.25)"/>
<use href="#t39" transform="translate(147.87,185.21) scale(8.91)"/>
<use href="#t40" transform="translate(127.02,338.89) scale(7.75)"/>
<use href="#t39" transform="translate(250.04,199.18) scale(9.24)"/>
<use href="#t40" transform="translate(93.66,287.67) scale(6.55)"/>
<use href="#t37" transform="translate(266.71,269.04) scale(11.49)"/>
<use href="#t39" transform="translate(137.45,213.15) scale(8.58)"/>
<use href="#t38" transform="translate(104.09,185.21) scale(9.89)"/>
<use href="#t40" transform="translate(149.95,259.72) scale(7.07)"/>
<use href="#t40" transform="translate(233.35,143.30) scale(7.75)"/>
<use href="#t39" transform="translate(129.10,180.56) scale(8.58)"/>
<use href="#t40" transform="translate(141.61,222.47) scale(7.58)"/>
<use href="#t39" transform="translate(170.80,194.53) scale(9.08)"/>
<use href="#t39" transform="translate(183.31,213.15) scale(7.92)"/>
<use href="#t40" transform="translate(116.60,250.41) scale(7.75)"/>
<use href="#t38" transform="translate(229.19,245.75) scale(10.22)"/>
<use href="#t40" transform="translate(81.15,292.32) scale(7.24)"/>
<use href="#t38" transform="translate(197.91,245.75) scale(10.70)"/>
<use href="#t40" transform="translate(127.02,283.01) scale(6.90)"/>
<use href="#t38" transform="translate(222.93,208.50) scale(10.22)"/>
<use href="#t39" transform="translate(166.64,222.47) scale(8.25)"/>
<use href="#t38" transform="translate(212.50,227.12) scale(10.38)"/>
<use href="#t40" transform="translate(62.39,338.89) scale(5.50)"/>
<use href="#t38" transform="translate(272.97,227.12) scale(9.57)"/>
<use href="#t39" transform="translate(102.00,255.07) scale(8.34)"/>
<use href="#t37" transform="translate(227.10,157.27) scale(11.56)"/>
<use href="#t40" transform="translate(158.30,343.55) scale(6.12)"/>
<use href="#t38" transform="translate(160.38,157.27) scale(10.05)"/>
<use href="#t40" transform="translate(162.46,222.47) scale(5.59)"/>
<use href="#t40" transform="translate(200.00,208.50) scale(7.75)"/>
<use href="#t39" transform="translate(177.06,287.67) scale(8.42)"/>
<use href="#t39" transform="translate(168.72,157.27) scale(8.91)"/>
<use href="#t40" transform="translate(166.64,296.98) scale(6.47)"/>
<use href="#t37" transform="translate(272.97,203.84) scale(11.72)"/>
<use href="#t39" transform="translate(166.64,320.26) scale(8.67)"/>
<use href="#t37" transform="translate(323.01,143.30) scale(11.17)"/>
<use href="#t40" transform="translate(200.00,264.38) scale(6.55)"/>
<use href="#t38" transform="translate(252.12,180.56) scale(10.14)"/>
<use href="#t39" transform="translate(197.91,124.67) scale(8.91)"/>
<use href="#t38" transform="translate(262.55,236.44) scale(9.49)"/>
<use href="#t40" transform="translate(177.06,296.98) scale(5.50)"/>
<use href="#t39" transform="translate(149.95,133.99) scale(8.50)"/>
<use href="#t40" transform="translate(116.60,296.98) scale(7.07)"/>
<use href="#t40" transform="translate(229.19,222.47) scale(6.98)"/>
<use href="#t40" transform="translate(127.02,287.67) scale(6.38)"/>
<use href="#t40" transform="translate(158.30,166.58) scale(7.58)"/>
<use href="#t40" transform="translate(210.42,296.98) scale(7.41)"/>
<use href="#t39" transform="translate(235.44,227.12) scale(8.83)"/>
<use href="#t40" transform="translate(106.17,348.21) scale(6.03)"/>
<use href="#t39" transform="translate(218.76,203.84) scale(9.24)"/>
<use href="#t40" transform="translate(181.23,269.04) scale(6.81)"/>
<use href="#t38" transform="translate(237.53,236.44) scale(10.22)"/>
<use href="#t40" transform="translate(185.40,292.32) scale(6.03)"/>
<use href="#t39" transform="translate(291.74,250.41) scale(9.24)"/>
<use href="#t40" transform="translate(174.98,255.07) scale(6.98)"/>
<use href="#t40" transform="translate(270.89,194.53) scale(7.58)"/>
<use href="#t40" transform="translate(139.53,227.12) scale(7.58)"/>
<use href="#t37" transform="translate(154.12,227.12) scale(10.77)"/>
<use href="#t40" transform="translate(166.64,269.04) scale(7.33)"/>
<use href="#t39" transform="translate(229.19,273.69) scale(8.91)"/>
<use href="#t40" transform="translate(114.51,273.69) scale(6.47)"/>
<use href="#t39" transform="translate(210.42,152.61) scale(9.16)"/>
<use href="#t40" transform="translate(143.70,320.26) scale(7.24)"/>
<use href="#t38" transform="translate(200.00,255.07) scale(10.05)"/>
<use href="#t40" transform="translate(210.42,292.32) scale(7.24)"/>
<use href="#t40" transform="translate(218.76,287.67) scale(7.49)"/>
<use href="#t40" transform="translate(41.54,366.83) scale(6.03)"/>
<use href="#t39" transform="translate(220.85,296.98) scale(8.34)"/>
<use href="#t40" transform="translate(149.95,306.29) scale(5.85)"/>
<use href="#t39" transform="translate(185.40,217.81) scale(8.08)"/>
<use href="#t38" transform="translate(189.57,222.47) scale(10.05)"/>
<use href="#t40" transform="translate(135.36,231.78) scale(7.49)"/>
<use href="#t40" transform="translate(122.85,259.72) scale(7.41)"/>
<use href="#t39" transform="translate(160.38,245.75) scale(8.42)"/>
<use href="#t39" transform="translate(122.85,292.32) scale(8.25)"/>
<use href="#t39" transform="translate(237.53,227.12) scale(9.24)"/>
<use href="#t39" transform="translate(341.77,255.07) scale(7.58)"/>
<use href="#t37" transform="translate(414.75,180.56) scale(8.91)"/>
<use href="#t38" transform="translate(441.85,194.53) scale(8.08)"/>
<use href="#t39" transform="translate(318.84,217.81) scale(7.66)"/>
<use href="#t38" transform="translate(471.05,166.58) scale(8.34)"/>
<use href="#t37" transform="translate(314.67,259.72) scale(9.08)"/>
<use href="#t40" transform="translate(333.44,241.10) scale(6.72)"/>
<use href="#t38" transform="translate(441.85,241.10) scale(8.42)"/>
<use href="#t36" transform="translate(331.35,208.50) scale(9.73)"/>
<use href="#t38" transform="translate(441.85,161.93) scale(8.25)"/>
<use href="#t38" transform="translate(343.86,259.72) scale(8.58)"/>
<use href="#t38" transform="translate(450.20,143.30) scale(8.50)"/>
<use href="#t38" transform="translate(352.20,283.01) scale(8.25)"/>
<use href="#t36" transform="translate(456.45,245.75) scale(9.41)"/>
<use href="#t39" transform="translate(329.26,292.32) scale(7.83)"/>
<use href="#t36" transform="translate(425.18,175.90) scale(9.41)"/>
<use href="#t40" transform="translate(421.00,157.27) scale(6.90)"/>
<use href="#t38" transform="translate(581.55,259.72) scale(8.25)"/>
<use href="#t39" transform="translate(339.69,222.47) scale(7.41)"/>
<use href="#t35" transform="translate(398.07,241.10) scale(10.54)"/>
<use href="#t39" transform="translate(256.29,283.01) scale(7.92)"/>
<use href="#t40" transform="translate(383.48,273.69) scale(7.24)"/>
<use href="#t40" transform="translate(272.97,315.61) scale(5.50)"/>
<use href="#t38" transform="translate(427.26,185.21) scale(8.58)"/>
<use href="#t40" transform="translate(345.95,255.07) scale(6.90)"/>
<use href="#t36" transform="translate(456.45,203.84) scale(9.73)"/>
<use href="#t40" transform="translate(425.18,231.78) scale(7.24)"/>
<use href="#t38" transform="translate(404.33,203.84) scale(8.58)"/>
<use href="#t38" transform="translate(339.69,259.72) scale(8.25)"/>
<use href="#t34" transform="translate(473.13,157.27) scale(11.01)"/>
<use href="#t40" transform="translate(225.01,315.61) scale(6.55)"/>
<use href="#t35" transform="translate(502.32,120.01) scale(10.22)"/>
<use href="#t40" transform="translate(258.38,310.95) scale(7.07)"/>
<use href="#t36" transform="translate(435.60,213.15) scale(9.57)"/>
<use href="#t39" transform="translate(408.50,222.47) scale(7.92)"/>
<use href="#t37" transform="translate(362.62,306.29) scale(8.91)"/>
<use href="#t37" transform="translate(364.71,236.44) scale(8.75)"/>
<use href="#t33" transform="translate(456.45,124.67) scale(11.80)"/>
<use href="#t40" transform="translate(350.12,315.61) scale(4.78)"/>
<use href="#t34" transform="translate(487.73,161.93) scale(10.85)"/>
<use href="#t37" transform="translate(393.90,180.56) scale(9.08)"/>
<use href="#t38" transform="translate(335.52,273.69) scale(8.08)"/>
<use href="#t39" transform="translate(433.51,199.18) scale(7.75)"/>
<use href="#t39" transform="translate(320.93,296.98) scale(7.58)"/>
<use href="#t38" transform="translate(433.51,255.07) scale(8.17)"/>
<use href="#t34" transform="translate(431.43,227.12) scale(10.70)"/>
<use href="#t40" transform="translate(416.84,255.07) scale(7.24)"/>
<use href="#t35" transform="translate(393.90,175.90) scale(10.22)"/>
<use href="#t40" transform="translate(446.03,217.81) scale(6.72)"/>
<use href="#t38" transform="translate(410.58,283.01) scale(8.17)"/>
<use href="#t40" transform="translate(375.14,324.92) scale(6.98)"/>
<use href="#t37" transform="translate(443.94,203.84) scale(9.08)"/>
<use href="#t39" transform="translate(325.10,283.01) scale(7.92)"/>
<use href="#t36" transform="translate(429.35,171.24) scale(9.41)"/>
<use href="#t40" transform="translate(258.38,283.01) scale(7.07)"/>
<use href="#t39" transform="translate(460.62,213.15) scale(7.41)"/>
<use href="#t40" transform="translate(314.67,315.61) scale(6.72)"/>
<use href="#t36" transform="translate(400.15,161.93) scale(9.41)"/>
<use href="#t38" transform="translate(418.92,213.15) scale(8.58)"/>
<use href="#t39" transform="translate(323.01,185.21) scale(7.66)"/>
<use href="#t37" transform="translate(454.37,180.56) scale(9.08)"/>
<use href="#t38" transform="translate(348.03,320.26) scale(8.08)"/>
<use href="#t38" transform="translate(325.10,296.98) scale(8.08)"/>
<use href="#t37" transform="translate(535.68,166.58) scale(9.24)"/>
<use href="#t40" transform="translate(279.23,245.75) scale(7.24)"/>
<use href="#t38" transform="translate(406.41,241.10) scale(8.50)"/>
<use href="#t36" transform="translate(431.43,203.84) scale(9.57)"/>
<use href="#t38" transform="translate(418.92,217.81) scale(8.50)"/>
<use href="#t41" transform="translate(333.44,473.95) scale(10.85)"/>
<use href="#t41" transform="translate(414.75,329.58) scale(14.55)"/>
<use href="#t41" transform="translate(387.65,432.03) scale(10.70)"/>
<use href="#t41" transform="translate(414.75,380.81) scale(14.55)"/>
<use href="#t41" transform="translate(364.71,413.40) scale(13.65)"/>
<use href="#t41" transform="translate(341.77,459.97) scale(11.01)"/>
<use href="#t41" transform="translate(318.84,408.75) scale(11.80)"/>
<use href="#t41" transform="translate(345.95,376.15) scale(13.04)"/>
<use href="#t41" transform="translate(275.05,464.63) scale(10.54)"/>
<use href="#t41" transform="translate(348.03,371.49) scale(12.88)"/>
<use href="#t41" transform="translate(225.01,450.66) scale(11.33)"/>
<use href="#t41" transform="translate(393.90,338.89) scale(14.10)"/>
<use href="#t41" transform="translate(320.93,450.66) scale(11.33)"/>
<use href="#t41" transform="translate(381.39,408.75) scale(15.00)"/>
<use href="#t41" transform="translate(327.18,408.75) scale(9.89)"/>
<use href="#t41" transform="translate(400.15,357.52) scale(15.00)"/>
<use href="#t41" transform="translate(247.95,459.97) scale(9.73)"/>
<use href="#t41" transform="translate(398.07,380.81) scale(16.33)"/>
<use href="#t41" transform="translate(335.52,413.40) scale(11.80)"/>
<use href="#t41" transform="translate(387.65,385.46) scale(13.50)"/>
<use href="#t41" transform="translate(418.92,422.72) scale(14.55)"/>
<use href="#t41" transform="translate(312.59,413.40) scale(12.42)"/>
<use href="#t41" transform="translate(341.77,413.40) scale(10.54)"/>
<use href="#t41" transform="translate(337.60,352.86) scale(12.58)"/>
<use href="#t41" transform="translate(266.71,478.60) scale(12.42)"/>
<use href="#t41" transform="translate(333.44,385.46) scale(12.73)"/>
<use href="#t41" transform="translate(300.08,422.72) scale(9.57)"/>
<use href="#t41" transform="translate(368.88,390.12) scale(14.40)"/>
<use href="#t41" transform="translate(377.22,422.72) scale(11.17)"/>
<use href="#t41" transform="translate(414.75,376.15) scale(14.10)"/>
<use href="#t41" transform="translate(358.45,376.15) scale(13.19)"/>
<use href="#t41" transform="translate(264.63,427.38) scale(11.49)"/>
<use href="#t41" transform="translate(312.59,413.40) scale(12.58)"/>
<use href="#t41" transform="translate(614.91,296.98) scale(15.60)"/>
<use href="#t41" transform="translate(395.99,399.43) scale(12.88)"/>
<use href="#t41" transform="translate(381.39,329.58) scale(13.65)"/>
<use href="#t41" transform="translate(260.46,450.66) scale(12.27)"/>
<use href="#t41" transform="translate(297.99,283.01) scale(13.19)"/>
<use href="#t41" transform="translate(289.65,455.32) scale(10.38)"/>
<use href="#t41" transform="translate(387.65,357.52) scale(13.50)"/>
<use href="#t40" transform="translate(262.55,450.66) scale(9.08)"/>
<use href="#t41" transform="translate(406.41,343.55) scale(14.55)"/>
<use href="#t41" transform="translate(316.75,450.66) scale(10.22)"/>
<use href="#t41" transform="translate(406.41,390.12) scale(11.64)"/>
<use href="#t41" transform="translate(425.18,348.21) scale(14.10)"/>
<use href="#t41" transform="translate(281.31,441.35) scale(12.11)"/>
<use href="#t41" transform="translate(320.93,441.35) scale(9.89)"/>
<use href="#t41" transform="translate(425.18,348.21) scale(13.65)"/>
<use href="#t41" transform="translate(308.41,469.29) scale(12.73)"/>
<use href="#t41" transform="translate(314.67,352.86) scale(13.34)"/>
<use href="#t41" transform="translate(343.86,427.38) scale(11.96)"/>
<use href="#t41" transform="translate(383.48,432.03) scale(13.34)"/>
<use href="#t41" transform="translate(312.59,418.06) scale(10.54)"/>
<use href="#t41" transform="translate(416.84,390.12) scale(12.42)"/>
<use href="#t41" transform="translate(341.77,418.06) scale(12.11)"/>
<use href="#t41" transform="translate(310.50,371.49) scale(12.58)"/>
<use href="#t41" transform="translate(285.48,441.35) scale(10.22)"/>
<use href="#t41" transform="translate(320.93,390.12) scale(12.42)"/>
<use href="#t41" transform="translate(272.97,413.40) scale(10.70)"/>
<use href="#t41" transform="translate(423.09,376.15) scale(14.10)"/>
<use href="#t41" transform="translate(316.75,446.00) scale(9.89)"/>
<use href="#t41" transform="translate(335.52,394.78) scale(13.34)"/>
<use href="#t41" transform="translate(325.10,441.35) scale(10.54)"/>
<use href="#t41" transform="translate(504.40,357.52) scale(14.40)"/>
<use href="#t41" transform="translate(327.18,427.38) scale(11.49)"/>
<use href="#t41" transform="translate(410.58,306.29) scale(14.55)"/>
<use href="#t41" transform="translate(335.52,418.06) scale(11.33)"/>
<use href="#t41" transform="translate(404.33,334.24) scale(14.85)"/>
<use href="#t41" transform="translate(279.23,427.38) scale(11.49)"/>
<use href="#t41" transform="translate(429.35,390.12) scale(14.10)"/>
<use href="#t41" transform="translate(366.80,390.12) scale(11.64)"/>
<use href="#t41" transform="translate(339.69,362.18) scale(12.42)"/>
<use href="#t41" transform="translate(377.22,362.18) scale(12.73)"/>
<use href="#t41" transform="translate(341.77,399.43) scale(13.04)"/>
<use href="#t41" transform="translate(339.69,390.12) scale(11.49)"/>
<use href="#t41" transform="translate(385.56,343.55) scale(14.85)"/>
<use href="#t41" transform="translate(362.62,427.38) scale(11.17)"/>
<use href="#t41" transform="translate(437.69,329.58) scale(15.45)"/>
<use href="#t41" transform="translate(314.67,446.00) scale(11.64)"/>
<use href="#t41" transform="translate(314.67,324.92) scale(15.30)"/>
<use href="#t41" transform="translate(395.99,413.40) scale(11.25)"/>
<use href="#t41" transform="translate(466.88,362.18) scale(13.80)"/>
<use href="#t41" transform="translate(360.54,408.75) scale(11.56)"/>
<use href="#t41" transform="translate(414.75,348.21) scale(13.50)"/>
<use href="#t41" transform="translate(308.41,446.00) scale(11.64)"/>
<use href="#t41" transform="translate(431.43,283.01) scale(14.25)"/>
<use href="#t41" transform="translate(277.14,418.06) scale(11.17)"/>
<use href="#t41" transform="translate(441.85,427.38) scale(13.34)"/>
<use href="#t41" transform="translate(362.62,436.69) scale(12.03)"/>
<use href="#t41" transform="translate(458.54,296.98) scale(14.10)"/>
<use href="#t41" transform="translate(362.62,390.12) scale(12.27)"/>
<use href="#t41" transform="translate(460.62,292.32) scale(13.65)"/>
<use href="#t41" transform="translate(320.93,413.40) scale(11.64)"/>
<use href="#t41" transform="translate(404.33,338.89) scale(14.40)"/>
<use href="#t41" transform="translate(300.08,404.09) scale(11.96)"/>
<use href="#t41" transform="translate(431.43,357.52) scale(13.04)"/>
<use href="#t41" transform="translate(402.24,352.86) scale(12.19)"/>
<use href="#t41" transform="translate(350.12,408.75) scale(12.03)"/>
<use href="#t41" transform="translate(381.39,418.06) scale(11.25)"/>
<use href="#t41" transform="translate(437.69,320.26) scale(13.19)"/>
<use href="#t41" transform="translate(383.48,390.12) scale(11.96)"/>
<use href="#t41" transform="translate(537.76,296.98) scale(14.25)"/>
<use href="#t41" transform="translate(356.37,366.83) scale(12.34)"/>
<use href="#t41" transform="translate(395.99,390.12) scale(13.95)"/>
<use href="#t41" transform="translate(358.45,446.00) scale(11.56)"/>
<use href="#t41" transform="translate(348.03,338.89) scale(13.95)"/>
<use href="#t41" transform="translate(241.70,404.09) scale(11.49)"/>
<use href="#t41" transform="translate(485.64,352.86) scale(13.95)"/>
<use href="#t41" transform="translate(275.05,436.69) scale(11.09)"/>
<use href="#t41" transform="translate(375.14,385.46) scale(13.95)"/>
<use href="#t41" transform="translate(425.18,380.81) scale(12.42)"/>
<use href="#t41" transform="translate(410.58,348.21) scale(15.30)"/>
<use href="#t41" transform="translate(279.23,380.81) scale(11.33)"/>
<use href="#t41" transform="translate(446.03,329.58) scale(13.95)"/>
<use href="#t41" transform="translate(335.52,432.03) scale(10.46)"/>
<use href="#t41" transform="translate(521.09,343.55) scale(15.00)"/>
<use href="#t41" transform="translate(300.08,357.52) scale(12.03)"/>
<use href="#t41" transform="translate(389.73,334.24) scale(15.45)"/>
<use href="#t41" transform="translate(356.37,450.66) scale(12.19)"/>
<use href="#t41" transform="translate(348.03,422.72) scale(11.96)"/>
<use href="#t41" transform="translate(423.09,357.52) scale(14.70)"/>
<use href="#t41" transform="translate(314.67,399.43) scale(13.04)"/>
<use href="#t41" transform="translate(412.66,338.89) scale(13.65)"/>
</g>
<g class="dots">
<g stroke="#4269d0">
<use href="#t39" transform="translate(187.49,217.81) scale(8.42)" stroke-width="0.1295"/>
<use href="#t39" transform="translate(195.82,278.35) scale(8.58)" stroke-width="0.1286"/>
<use href="#t40" transform="translate(212.50,250.41) scale(6.72)" stroke-width="0.1415"/>
<use href="#t40" transform="translate(137.45,189.87) scale(7.41)" stroke-width="0.1360"/>
<use href="#t39" transform="translate(191.65,129.33) scale(8.08)" stroke-width="0.1315"/>
<use href="#t39" transform="translate(183.31,259.72) scale(8.00)" stroke-width="0.1320"/>
<use href="#t37" transform="translate(189.57,175.90) scale(11.41)" stroke-width="0.1171"/>
<use href="#t40" transform="translate(83.24,245.75) scale(7.49)" stroke-width="0.1354"/>
<use href="#t38" transform="translate(247.95,147.96) scale(10.05)" stroke-width="0.1218"/>
<use href="#t40" transform="translate(160.38,292.32) scale(6.90)" stroke-width="0.1400"/>
<use href="#t39" transform="translate(160.38,283.01) scale(8.25)" stroke-width="0.1305"/>
<use href="#t40" transform="translate(229.19,269.04) scale(6.55)" stroke-width="0.1431"/>
<use href="#t39" transform="translate(177.06,101.39) scale(8.58)" stroke-width="0.1286"/>
<use href="#t38" transform="translate(93.66,106.04) scale(10.54)" stroke-width="0.1200"/>
<use href="#t39" transform="translate(135.36,259.72) scale(8.25)" stroke-width="0.1305"/>
<use href="#t40" transform="translate(179.15,203.84) scale(7.41)" stroke-width="0.1360"/>
<use href="#t37" transform="translate(258.38,124.67) scale(10.85)" stroke-width="0.1189"/>
<use href="#t40" transform="translate(89.49,231.78) scale(6.98)" stroke-width="0.1393"/>
<use href="#t38" transform="translate(331.35,87.42) scale(9.89)" stroke-width="0.1224"/>
<use href="#t40" transform="translate(160.38,236.44) scale(7.24)" stroke-width="0.1373"/>
<use href="#t39" transform="translate(158.30,217.81) scale(7.92)" stroke-width="0.1325"/>
<use href="#t39" transform="translate(120.76,194.53) scale(8.58)" stroke-width="0.1286"/>
<use href="#t39" transform="translate(168.72,245.75) scale(9.08)" stroke-width="0.1261"/>
<use href="#t39" transform="translate(181.23,287.67) scale(8.58)" stroke-width="0.1286"/>
<use href="#t39" transform="translate(108.25,208.50) scale(8.58)" stroke-width="0.1286"/>
<use href="#t40" transform="translate(218.76,222.47) scale(7.75)" stroke-width="0.1336"/>
<use href="#t40" transform="translate(216.68,255.07) scale(6.55)" stroke-width="0.1431"/>
<use href="#t40" transform="translate(162.46,222.47) scale(6.38)" stroke-width="0.1447"/>
<use href="#t39" transform="translate(216.68,208.50) scale(9.08)" stroke-width="0.1261"/>
<use href="#t40" transform="translate(195.82,310.95) scale(6.72)" stroke-width="0.1415"/>
<use href="#t39" transform="translate(147.87,245.75) scale(8.91)" stroke-width="0.1269"/>
<use href="#t40" transform="translate(195.82,259.72) scale(6.90)" stroke-width="0.1400"/>
<use href="#t39" transform="translate(225.01,208.50) scale(8.91)" stroke-width="0.1269"/>
<use href="#t40" transform="translate(131.19,296.98) scale(6.98)" stroke-width="0.1393"/>
<use href="#t38" transform="translate(189.57,106.04) scale(9.73)" stroke-width="0.1231"/>
<use href="#t39" transform="translate(181.23,157.27) scale(9.08)" stroke-width="0.1261"/>
<use href="#t40" transform="translate(252.12,227.12) scale(7.75)" stroke-width="0.1336"/>
<use href="#t40" transform="translate(156.21,189.87) scale(6.90)" stroke-width="0.1400"/>
<use href="#t37" transform="translate(202.08,199.18) scale(11.33)" stroke-width="0.1173"/>
<use href="#t40" transform="translate(133.28,250.41) scale(6.38)" stroke-width="0.1447"/>
<use href="#t39" transform="translate(222.93,231.78) scale(8.91)" stroke-width="0.1269"/>
<use href="#t40" transform="translate(122.85,227.12) scale(6.20)" stroke-width="0.1465"/>
<use href="#t38" transform="translate(291.74,171.24) scale(10.54)" stroke-width="0.1200"/>
<use href="#t40" transform="translate(143.70,301.64) scale(5.85)" stroke-width="0.1503"/>
<use href="#t37" transform="translate(197.91,213.15) scale(11.17)" stroke-width="0.1178"/>
<use href="#t40" transform="translate(229.19,203.84) scale(7.33)" stroke-width="0.1366"/>
<use href="#t40" transform="translate(154.12,208.50) scale(5.76)" stroke-width="0.1514"/>
<use href="#t40" transform="translate(122.85,255.07) scale(7.41)" stroke-width="0.1360"/>
<use href="#t38" transform="translate(254.20,101.39) scale(9.73)" stroke-width="0.1231"/>
<use href="#t40" transform="translate(197.91,264.38) scale(7.58)" stroke-width="0.1348"/>
<use href="#t38" transform="translate(208.34,208.50) scale(10.22)" stroke-width="0.1212"/>
<use href="#t40" transform="translate(102.00,255.07) scale(7.41)" stroke-width="0.1360"/>
<use href="#t38" transform="translate(247.95,180.56) scale(9.41)" stroke-width="0.1245"/>
<use href="#t40" transform="translate(91.58,245.75) scale(5.50)" stroke-width="0.1548"/>
<use href="#t39" transform="translate(235.44,222.47) scale(8.25)" stroke-width="0.1305"/>
<use href="#t40" transform="translate(185.40,273.69) scale(7.75)" stroke-width="0.1336"/>
<use href="#t39" transform="translate(218.76,213.15) scale(8.58)" stroke-width="0.1286"/>
<use href="#t40" transform="translate(133.28,315.61) scale(5.32)" stroke-width="0.1572"/>
<use href="#t39" transform="translate(156.21,199.18) scale(8.42)" stroke-width="0.1295"/>
<use href="#t40" transform="translate(116.60,301.64) scale(6.38)" stroke-width="0.1447"/>
<use href="#t38" transform="translate(233.35,106.04) scale(10.54)" stroke-width="0.1200"/>
<use href="#t39" transform="translate(156.21,296.98) scale(7.92)" stroke-width="0.1325"/>
<use href="#t38" transform="translate(229.19,241.10) scale(9.41)" stroke-width="0.1245"/>
<use href="#t40" transform="translate(131.19,292.32) scale(5.32)" stroke-width="0.1572"/>
<use href="#t39" transform="translate(239.61,250.41) scale(9.08)" stroke-width="0.1261"/>
<use href="#t40" transform="translate(112.42,334.24) scale(7.07)" stroke-width="0.1386"/>
<use href="#t38" transform="translate(229.19,199.18) scale(9.57)" stroke-width="0.1238"/>
<use href="#t40" transform="translate(120.76,315.61) scale(6.03)" stroke-width="0.1484"/>
<use href="#t38" transform="translate(243.78,185.21) scale(10.70)" stroke-width="0.1194"/>
<use href="#t39" transform="translate(70.72,203.84) scale(7.92)" stroke-width="0.1325"/>
<use href="#t39" transform="translate(200.00,231.78) scale(8.91)" stroke-width="0.1269"/>
<use href="#t40" transform="translate(197.91,287.67) scale(7.75)" stroke-width="0.1336"/>
<use href="#t38" transform="translate(327.18,208.50) scale(9.73)" stroke-width="0.1231"/>
<use href="#t39" transform="translate(112.42,273.69) scale(8.25)" stroke-width="0.1305"/>
<use href="#t38" transform="translate(264.63,227.12) scale(10.05)" stroke-width="0.1218"/>
<use href="#t39" transform="translate(225.01,306.29) scale(8.25)" stroke-width="0.1305"/>
<use href="#t39" transform="translate(147.87,185.21) scale(8.91)" stroke-width="0.1269"/>
<use href="#t40" transform="translate(127.02,338.89) scale(7.75)" stroke-width="0.1336"/>
<use href="#t39" transform="translate(250.04,199.18) scale(9.24)" stroke-width="0.1253"/>
<use href="#t40" transform="translate(93.66,287.67) scale(6.55)" stroke-width="0.1431"/>
<use href="#t37" transform="translate(266.71,269.04) scale(11.49)" stroke-width="0.1168"/>
<use href="#t39" transform="translate(137.45,213.15) scale(8.58)" stroke-width="0.1286"/>
<use href="#t38" transform="translate(104.09,185.21) scale(9.89)" stroke-width="0.1224"/>
<use href="#t40" transform="translate(149.95,259.72) scale(7.07)" stroke-width="0.1386"/>
<use href="#t40" transform="translate(233.35,143.30) scale(7.75)" stroke-width="0.1336"/>
<use href="#t39" transform="translate(129.10,180.56) scale(8.58)" stroke-width="0.1286"/>
<use href="#t40" transform="translate(141.61,222.47) scale(7.58)" stroke-width="0.1348"/>
<use href="#t39" transform="translate(170.80,194.53) scale(9.08)" stroke-width="0.1261"/>
<use href="#t39" transform="translate(183.31,213.15) scale(7.92)" stroke-width="0.1325"/>
<use href="#t40" transform="translate(116.60,250.41) scale(7.75)" stroke-width="0.1336"/>
<use href="#t38" transform="translate(229.19,245.75) scale(10.22)" stroke-width="0.1212"/>
<use href="#t40" transform="translate(81.15,292.32) scale(7.24)" stroke-width="0.1373"/>
<use href="#t38" transform="translate(197.91,245.75) scale(10.70)" stroke-width="0.1194"/>
<use href="#t40" transform="translate(127.02,283.01) scale(6.90)" stroke-width="0.1400"/>
<use href="#t38" transform="translate(222.93,208.50) scale(10.22)" stroke-width="0.1212"/>
<use href="#t39" transform="translate(166.64,222.47) scale(8.25)" stroke-width="0.1305"/>
<use href="#t38" transform="translate(212.50,227.12) scale(10.38)" stroke-width="0.1206"/>
<use href="#t40" transform="translate(62.39,338.89) scale(5.50)" stroke-width="0.1548"/>
<use href="#t38" transform="translate(272.97,227.12) scale(9.57)" stroke-width="0.1238"/>
<use href="#t39" transform="translate(102.00,255.07) scale(8.34)" stroke-width="0.1300"/>
<use href="#t37" transform="translate(227.10,157.27) scale(11.56)" stroke-width="0.1166"/>
<use href="#t40" transform="translate(158.30,343.55) scale(6.12)" stroke-width="0.1474"/>
<use href="#t38" transform="translate(160.38,157.27) scale(10.05)" stroke-width="0.1218"/>
<use href="#t40" transform="translate(162.46,222.47) scale(5.59)" stroke-width="0.1536"/>
<use href="#t40" transform="translate(200.00,208.50) scale(7.75)" stroke-width="0.1336"/>
<use href="#t39" transform="translate(177.06,287.67) scale(8.42)" stroke-width="0.1295"/>
<use href="#t39" transform="translate(168.72,157.27) scale(8.91)" stroke-width="0.1269"/>
<use href="#t40" transform="translate(166.64,296.98) scale(6.47)" stroke-width="0.1439"/>
<use href="#t37" transform="translate(272.97,203.84) scale(11.72)" stroke-width="0.1161"/>
<use href="#t39" transform="translate(166.64,320.26) scale(8.67)" stroke-width="0.1281"/>
<use href="#t37" transform="translate(323.01,143.30) scale(11.17)" stroke-width="0.1178"/>
<use href="#t40" transform="translate(200.00,264.38) scale(6.55)" stroke-width="0.1431"/>
<use href="#t38" transform="translate(252.12,180.56) scale(10.14)" stroke-width="0.1215"/>
<use href="#t39" transform="translate(197.91,124.67) scale(8.91)" stroke-width="0.1269"/>
<use href="#t38" transform="translate(262.55,236.44) scale(9.49)" stroke-width="0.1242"/>
<use href="#t40" transform="translate(177.06,296.98) scale(5.50)" stroke-width="0.1548"/>
<use href="#t39" transform="translate(149.95,133.99) scale(8.50)" stroke-width="0.1290"/>
<use href="#t40" transform="translate(116.60,296.98) scale(7.07)" stroke-width="0.1386"/>
<use href="#t40" transform="translate(229.19,222.47) scale(6.98)" stroke-width="0.1393"/>
<use href="#t40" transform="translate(127.02,287.67) scale(6.38)" stroke-width="0.1447"/>
<use href="#t40" transform="translate(158.30,166.58) scale(7.58)" stroke-width="0.1348"/>
<use href="#t40" transform="translate(210.42,296.98) scale(7.41)" stroke-width="0.1360"/>
<use href="#t39" transform="translate(235.44,227.12) scale(8.83)" stroke-width="0.1273"/>
<use href="#t40" transform="translate(106.17,348.21) scale(6.03)" stroke-width="0.1484"/>
<use href="#t39" transform="translate(218.76,203.84) scale(9.24)" stroke-width="0.1253"/>
<use href="#t40" transform="translate(181.23,269.04) scale(6.81)" stroke-width="0.1407"/>
<use href="#t38" transform="translate(237.53,236.44) scale(10.22)" stroke-width="0.1212"/>
<use href="#t40" transform="translate(185.40,292.32) scale(6.03)" stroke-width="0.1484"/>
<use href="#t39" transform="translate(291.74,250.41) scale(9.24)" stroke-width="0.1253"/>
<use href="#t40" transform="translate(174.98,255.07) scale(6.98)" stroke-width="0.1393"/>
<use href="#t40" transform="translate(270.89,194.53) scale(7.58)" stroke-width="0.1348"/>
<use href="#t40" transform="translate(139.53,227.12) scale(7.58)" stroke-width="0.1348"/>
<use href="#t37" transform="translate(154.12,227.12) scale(10.77)" stroke-width="0.1191"/>
<use href="#t40" transform="translate(166.64,269.04) scale(7.33)" stroke-width="0.1366"/>
<use href="#t39" transform="translate(229.19,273.69) scale(8.91)" stroke-width="0.1269"/>
<use href="#t40" transform="translate(114.51,273.69) scale(6.47)" stroke-width="0.1439"/>
<use href="#t39" transform="translate(210.42,152.61) scale(9.16)" stroke-width="0.1257"/>
<use href="#t40" transform="translate(143.70,320.26) scale(7.24)" stroke-width="0.1373"/>
<use href="#t38" transform="translate(200.00,255.07) scale(10.05)" stroke-width="0.1218"/>
<use href="#t40" transform="translate(210.42,292.32) scale(7.24)" stroke-width="0.1373"/>
<use href="#t40" transform="translate(218.76,287.67) scale(7.49)" stroke-width="0.1354"/>
<use href="#t40" transform="translate(41.54,366.83) scale(6.03)" stroke-width="0.1484"/>
<use href="#t39" transform="translate(220.85,296.98) scale(8.34)" stroke-width="0.1300"/>
<use href="#t40" transform="translate(149.95,306.29) scale(5.85)" stroke-width="0.1503"/>
<use href="#t39" transform="translate(185.40,217.81) scale(8.08)" stroke-width="0.1315"/>
<use href="#t38" transform="translate(189.57,222.47) scale(10.05)" stroke-width="0.1218"/>
<use href="#t40" transform="translate(135.36,231.78) scale(7.49)" stroke-width="0.1354"/>
<use href="#t40" transform="translate(122.85,259.72) scale(7.41)" stroke-width="0.1360"/>
<use href="#t39" transform="translate(160.38,245.75) scale(8.42)" stroke-width="0.1295"/>
<use href="#t39" transform="translate(122.85,292.32) scale(8.25)" stroke-width="0.1305"/>
<use href="#t39" transform="translate(237.53,227.12) scale(9.24)" stroke-width="0.1253"/>
</g>
<g stroke="#efb118">
<use href="#t39" transform="translate(341.77,255.07) scale(7.58)" stroke-width="0.1348"/>
<use href="#t37" transform="translate(414.75,180.56) scale(8.91)" stroke-width="0.1269"/>
<use href="#t38" transform="translate(441.85,194.53) scale(8.08)" stroke-width="0.1315"/>
<use href="#t39" transform="translate(318.84,217.81) scale(7.66)" stroke-width="0.1342"/>
<use href="#t38" transform="translate(471.05,166.58) scale(8.34)" stroke-width="0.1300"/>
<use href="#t37" transform="translate(314.67,259.72) scale(9.08)" stroke-width="0.1261"/>
<use href="#t40" transform="translate(333.44,241.10) scale(6.72)" stroke-width="0.1415"/>
<use href="#t38" transform="translate(441.85,241.10) scale(8.42)" stroke-width="0.1295"/>
<use href="#t36" transform="translate(331.35,208.50) scale(9.73)" stroke-width="0.1231"/>
<use href="#t38" transform="translate(441.85,161.93) scale(8.25)" stroke-width="0.1305"/>
<use href="#t38" transform="translate(343.86,259.72) scale(8.58)" stroke-width="0.1286"/>
<use href="#t38" transform="translate(450.20,143.30) scale(8.50)" stroke-width="0.1290"/>
<use href="#t38" transform="translate(352.20,283.01) scale(8.25)" stroke-width="0.1305"/>
<use href="#t36" transform="translate(456.45,245.75) scale(9.41)" stroke-width="0.1245"/>
<use href="#t39" transform="translate(329.26,292.32) scale(7.83)" stroke-width="0.1331"/>
<use href="#t36" transform="translate(425.18,175.90) scale(9.41)" stroke-width="0.1245"/>
<use href="#t40" transform="translate(421.00,157.27) scale(6.90)" stroke-width="0.1400"/>
<use href="#t38" transform="translate(581.55,259.72) scale(8.25)" stroke-width="0.1305"/>
<use href="#t39" transform="translate(339.69,222.47) scale(7.41)" stroke-width="0.1360"/>
<use href="#t35" transform="translate(398.07,241.10) scale(10.54)" stroke-width="0.1200"/>
<use href="#t39" transform="translate(256.29,283.01) scale(7.92)" stroke-width="0.1325"/>
<use href="#t40" transform="translate(383.48,273.69) scale(7.24)" stroke-width="0.1373"/>
<use href="#t40" transform="translate(272.97,315.61) scale(5.50)" stroke-width="0.1548"/>
<use href="#t38" transform="translate(427.26,185.21) scale(8.58)" stroke-width="0.1286"/>
<use href="#t40" transform="translate(345.95,255.07) scale(6.90)" stroke-width="0.1400"/>
<use href="#t36" transform="translate(456.45,203.84) scale(9.73)" stroke-width="0.1231"/>
<use href="#t40" transform="translate(425.18,231.78) scale(7.24)" stroke-width="0.1373"/>
<use href="#t38" transform="translate(404.33,203.84) scale(8.58)" stroke-width="0.1286"/>
<use href="#t38" transform="translate(339.69,259.72) scale(8.25)" stroke-width="0.1305"/>
<use href="#t34" transform="translate(473.13,157.27) scale(11.01)" stroke-width="0.1183"/>
<use href="#t40" transform="translate(225.01,315.61) scale(6.55)" stroke-width="0.1431"/>
<use href="#t35" transform="translate(502.32,120.01) scale(10.22)" stroke-width="0.1212"/>
<use href="#t40" transform="translate(258.38,310.95) scale(7.07)" stroke-width="0.1386"/>
<use href="#t36" transform="translate(435.60,213.15) scale(9.57)" stroke-width="0.1238"/>
<use href="#t39" transform="translate(408.50,222.47) scale(7.92)" stroke-width="0.1325"/>
<use href="#t37" transform="translate(362.62,306.29) scale(8.91)" stroke-width="0.1269"/>
<use href="#t37" transform="translate(364.71,236.44) scale(8.75)" stroke-width="0.1277"/>
<use href="#t33" transform="translate(456.45,124.67) scale(11.80)" stroke-width="0.1159"/>
<use href="#t40" transform="translate(350.12,315.61) scale(4.78)" stroke-width="0.1657"/>
<use href="#t34" transform="translate(487.73,161.93) scale(10.85)" stroke-width="0.1189"/>
<use href="#t37" transform="translate(393.90,180.56) scale(9.08)" stroke-width="0.1261"/>
<use href="#t38" transform="translate(335.52,273.69) scale(8.08)" stroke-width="0.1315"/>
<use href="#t39" transform="translate(433.51,199.18) scale(7.75)" stroke-width="0.1336"/>
<use href="#t39" transform="translate(320.93,296.98) scale(7.58)" stroke-width="0.1348"/>
<use href="#t38" transform="translate(433.51,255.07) scale(8.17)" stroke-width="0.1310"/>
<use href="#t34" transform="translate(431.43,227.12) scale(10.70)" stroke-width="0.1194"/>
<use href="#t40" transform="translate(416.84,255.07) scale(7.24)" stroke-width="0.1373"/>
<use href="#t35" transform="translate(393.90,175.90) scale(10.22)" stroke-width="0.1212"/>
<use href="#t40" transform="translate(446.03,217.81) scale(6.72)" stroke-width="0.1415"/>
<use href="#t38" transform="translate(410.58,283.01) scale(8.17)" stroke-width="0.1310"/>
<use href="#t40" transform="translate(375.14,324.92) scale(6.98)" stroke-width="0.1393"/>
<use href="#t37" transform="translate(443.94,203.84) scale(9.08)" stroke-width="0.1261"/>
<use href="#t39" transform="translate(325.10,283.01) scale(7.92)" stroke-width="0.1325"/>
<use href="#t36" transform="translate(429.35,171.24) scale(9.41)" stroke-width="0.1245"/>
<use href="#t40" transform="translate(258.38,283.01) scale(7.07)" stroke-width="0.1386"/>
<use href="#t39" transform="translate(460.62,213.15) scale(7.41)" stroke-width="0.1360"/>
<use href="#t40" transform="translate(314.67,315.61) scale(6.72)" stroke-width="0.1415"/>
<use href="#t36" transform="translate(400.15,161.93) scale(9.41)" stroke-width="0.1245"/>
<use href="#t38" transform="translate(418.92,213.15) scale(8.58)" stroke-width="0.1286"/>
<use href="#t39" transform="translate(323.01,185.21) scale(7.66)" stroke-width="0.1342"/>
<use href="#t37" transform="translate(454.37,180.56) scale(9.08)" stroke-width="0.1261"/>
<use href="#t38" transform="translate(348.03,320.26) scale(8.08)" stroke-width="0.1315"/>
<use href="#t38" transform="translate(325.10,296.98) scale(8.08)" stroke-width="0.1315"/>
<use href="#t37" transform="translate(535.68,166.58) scale(9.24)" stroke-width="0.1253"/>
<use href="#t40" transform="translate(279.23,245.75) scale(7.24)" stroke-width="0.1373"/>
<use href="#t38" transform="translate(406.41,241.10) scale(8.50)" stroke-width="0.1290"/>
<use href="#t36" transform="translate(431.43,203.84) scale(9.57)" stroke-width="0.1238"/>
<use href="#t38" transform="translate(418.92,217.81) scale(8.50)" stroke-width="0.1290"/>
</g>
<g stroke="#ff725c">
<use href="#t41" transform="translate(333.44,473.95) scale(10.85)" stroke-width="0.1189"/>
<use href="#t41" transform="translate(414.75,329.58) scale(14.55)" stroke-width="0.1095"/>
<use href="#t41" transform="translate(387.65,432.03) scale(10.70)" stroke-width="0.1194"/>
<use href="#t41" transform="translate(414.75,380.81) scale(14.55)" stroke-width="0.1095"/>
<use href="#t41" transform="translate(364.71,413.40) scale(13.65)" stroke-width="0.1113"/>
<use href="#t41" transform="translate(341.77,459.97) scale(11.01)" stroke-width="0.1183"/>
<use href="#t41" transform="translate(318.84,408.75) scale(11.80)" stroke-width="0.1159"/>
<use href="#t41" transform="translate(345.95,376.15) scale(13.04)" stroke-width="0.1127"/>
<use href="#t41" transform="translate(275.05,464.63) scale(10.54)" stroke-width="0.1200"/>
<use href="#t41" transform="translate(348.03,371.49) scale(12.88)" stroke-width="0.1130"/>
<use href="#t41" transform="translate(225.01,450.66) scale(11.33)" stroke-width="0.1173"/>
<use href="#t41" transform="translate(393.90,338.89) scale(14.10)" stroke-width="0.1104"/>
<use href="#t41" transform="translate(320.93,450.66) scale(11.33)" stroke-width="0.1173"/>
<use href="#t41" transform="translate(381.39,408.75) scale(15.00)" stroke-width="0.1087"/>
<use href="#t41" transform="translate(327.18,408.75) scale(9.89)" stroke-width="0.1224"/>
<use href="#t41" transform="translate(400.15,357.52) scale(15.00)" stroke-width="0.1087"/>
<use href="#t41" transform="translate(247.95,459.97) scale(9.73)" stroke-width="0.1231"/>
<use href="#t41" transform="translate(398.07,380.81) scale(16.33)" stroke-width="0.1065"/>
<use href="#t41" transform="translate(335.52,413.40) scale(11.80)" stroke-width="0.1159"/>
<use href="#t41" transform="translate(387.65,385.46) scale(13.50)" stroke-width="0.1116"/>
<use href="#t41" transform="translate(418.92,422.72) scale(14.55)" stroke-width="0.1095"/>
<use href="#t41" transform="translate(312.59,413.40) scale(12.42)" stroke-width="0.1142"/>
<use href="#t41" transform="translate(341.77,413.40) scale(10.54)" stroke-width="0.1200"/>
<use href="#t41" transform="translate(337.60,352.86) scale(12.58)" stroke-width="0.1138"/>
<use href="#t41" transform="translate(266.71,478.60) scale(12.42)" stroke-width="0.1142"/>
<use href="#t41" transform="translate(333.44,385.46) scale(12.73)" stroke-width="0.1134"/>
<use href="#t41" transform="translate(300.08,422.72) scale(9.57)" stroke-width="0.1238"/>
<use href="#t41" transform="translate(368.88,390.12) scale(14.40)" stroke-width="0.1098"/>
<use href="#t41" transform="translate(377.22,422.72) scale(11.17)" stroke-width="0.1178"/>
<use href="#t41" transform="translate(414.75,376.15) scale(14.10)" stroke-width="0.1104"/>
<use href="#t41" transform="translate(358.45,376.15) scale(13.19)" stroke-width="0.1123"/>
<use href="#t41" transform="translate(264.63,427.38) scale(11.49)" stroke-width="0.1168"/>
<use href="#t41" transform="translate(312.59,413.40) scale(12.58)" stroke-width="0.1138"/>
<use href="#t41" transform="translate(614.91,296.98) scale(15.60)" stroke-width="0.1076"/>
<use href="#t41" transform="translate(395.99,399.43) scale(12.88)" stroke-width="0.1130"/>
<use href="#t41" transform="translate(381.39,329.58) scale(13.65)" stroke-width="0.1113"/>
<use href="#t41" transform="translate(260.46,450.66) scale(12.27)" stroke-width="0.1146"/>
<use href="#t41" transform="translate(297.99,283.01) scale(13.19)" stroke-width="0.1123"/>
<use href="#t41" transform="translate(289.65,455.32) scale(10.38)" stroke-width="0.1206"/>
<use href="#t41" transform="translate(387.65,357.52) scale(13.50)" stroke-width="0.1116"/>
<use href="#t40" transform="translate(262.55,450.66) scale(9.08)" stroke-width="0.1261"/>
<use href="#t41" transform="translate(406.41,343.55) scale(14.55)" stroke-width="0.1095"/>
<use href="#t41" transform="translate(316.75,450.66) scale(10.22)" stroke-width="0.1212"/>
<use href="#t41" transform="translate(406.41,390.12) scale(11.64)" stroke-width="0.1164"/>
<use href="#t41" transform="translate(425.18,348.21) scale(14.10)" stroke-width="0.1104"/>
<use href="#t41" transform="translate(281.31,441.35) scale(12.11)" stroke-width="0.1150"/>
<use href="#t41" transform="translate(320.93,441.35) scale(9.89)" stroke-width="0.1224"/>
<use href="#t41" transform="translate(425.18,348.21) scale(13.65)" stroke-width="0.1113"/>
<use href="#t41" transform="translate(308.41,469.29) scale(12.73)" stroke-width="0.1134"/>
<use href="#t41" transform="translate(314.67,352.86) scale(13.34)" stroke-width="0.1120"/>
<use href="#t41" transform="translate(343.86,427.38) scale(11.96)" stroke-width="0.1155"/>
<use href="#t41" transform="translate(383.48,432.03) scale(13.34)" stroke-width="0.1120"/>
<use href="#t41" transform="translate(312.59,418.06) scale(10.54)" stroke-width="0.1200"/>
<use href="#t41" transform="translate(416.84,390.12) scale(12.42)" stroke-width="0.1142"/>
<use href="#t41" transform="translate(341.77,418.06) scale(12.11)" stroke-width="0.1150"/>
<use href="#t41" transform="translate(310.50,371.49) scale(12.58)" stroke-width="0.1138"/>
<use href="#t41" transform="translate(285.48,441.35) scale(10.22)" stroke-width="0.1212"/>
<use href="#t41" transform="translate(320.93,390.12) scale(12.42)" stroke-width="0.1142"/>
<use href="#t41" transform="translate(272.97,413.40) scale(10.70)" stroke-width="0.1194"/>
<use href="#t41" transform="translate(423.09,376.15) scale(14.10)" stroke-width="0.1104"/>
<use href="#t41" transform="translate(316.75,446.00) scale(9.89)" stroke-width="0.1224"/>
<use href="#t41" transform="translate(335.52,394.78) scale(13.34)" stroke-width="0.1120"/>
<use href="#t41" transform="translate(325.10,441.35) scale(10.54)" stroke-width="0.1200"/>
<use href="#t41" transform="translate(504.40,357.52) scale(14.40)" stroke-width="0.1098"/>
<use href="#t41" transform="translate(327.18,427.38) scale(11.49)" stroke-width="0.1168"/>
<use href="#t41" transform="translate(410.58,306.29) scale(14.55)" stroke-width="0.1095"/>
<use href="#t41" transform="translate(335.52,418.06) scale(11.33)" stroke-width="0.1173"/>
<use href="#t41" transform="translate(404.33,334.24) scale(14.85)" stroke-width="0.1089"/>
<use href="#t41" transform="translate(279.23,427.38) scale(11.49)" stroke-width="0.1168"/>
<use href="#t41" transform="translate(429.35,390.12) scale(14.10)" stroke-width="0.1104"/>
<use href="#t41" transform="translate(366.80,390.12) scale(11.64)" stroke-width="0.1164"/>
<use href="#t41" transform="translate(339.69,362.18) scale(12.42)" stroke-width="0.1142"/>
<use href="#t41" transform="translate(377.22,362.18) scale(12.73)" stroke-width="0.1134"/>
<use href="#t41" transform="translate(341.77,399.43) scale(13.04)" stroke-width="0.1127"/>
<use href="#t41" transform="translate(339.69,390.12) scale(11.49)" stroke-width="0.1168"/>
<use href="#t41" transform="translate(385.56,343.55) scale(14.85)" stroke-width="0.1089"/>
<use href="#t41" transform="translate(362.62,427.38) scale(11.17)" stroke-width="0.1178"/>
<use href="#t41" transform="translate(437.69,329.58) scale(15.45)" stroke-width="0.1079"/>
<use href="#t41" transform="translate(314.67,446.00) scale(11.64)" stroke-width="0.1164"/>
<use href="#t41" transform="translate(314.67,324.92) scale(15.30)" stroke-width="0.1081"/>
<use href="#t41" transform="translate(395.99,413.40) scale(11.25)" stroke-width="0.1176"/>
<use href="#t41" transform="translate(466.88,362.18) scale(13.80)" stroke-width="0.1110"/>
<use href="#t41" transform="translate(360.54,408.75) scale(11.56)" stroke-width="0.1166"/>
<use href="#t41" transform="translate(414.75,348.21) scale(13.50)" stroke-width="0.1116"/>
<use href="#t41" transform="translate(308.41,446.00) scale(11.64)" stroke-width="0.1164"/>
<use href="#t41" transform="translate(431.43,283.01) scale(14.25)" stroke-width="0.1101"/>
<use href="#t41" transform="translate(277.14,418.06) scale(11.17)" stroke-width="0.1178"/>
<use href="#t41" transform="translate(441.85,427.38) scale(13.34)" stroke-width="0.1120"/>
<use href="#t41" transform="translate(362.62,436.69) scale(12.03)" stroke-width="0.1152"/>
<use href="#t41" transform="translate(458.54,296.98) scale(14.10)" stroke-width="0.1104"/>
<use href="#t41" transform="translate(362.62,390.12) scale(12.27)" stroke-width="0.1146"/>
<use href="#t41" transform="translate(460.62,292.32) scale(13.65)" stroke-width="0.1113"/>
<use href="#t41" transform="translate(320.93,413.40) scale(11.64)" stroke-width="0.1164"/>
<use href="#t41" transform="translate(404.33,338.89) scale(14.40)" stroke-width="0.1098"/>
<use href="#t41" transform="translate(300.08,404.09) scale(11.96)" stroke-width="0.1155"/>
<use href="#t41" transform="translate(431.43,357.52) scale(13.04)" stroke-width="0.1127"/>
<use href="#t41" transform="translate(402.24,352.86) scale(12.19)" stroke-width="0.1148"/>
<use href="#t41" transform="translate(350.12,408.75) scale(12.03)" stroke-width="0.1152"/>
<use href="#t41" transform="translate(381.39,418.06) scale(11.25)" stroke-width="0.1176"/>
<use href="#t41" transform="translate(437.69,320.26) scale(13.19)" stroke-width="0.1123"/>
<use href="#t41" transform="translate(383.48,390.12) scale(11.96)" stroke-width="0.1155"/>
<use href="#t41" transform="translate(537.76,296.98) scale(14.25)" stroke-width="0.1101"/>
<use href="#t41" transform="translate(356.37,366.83) scale(12.34)" stroke-width="0.1144"/>
<use href="#t41" transform="translate(395.99,390.12) scale(13.95)" stroke-width="0.1107"/>
<use href="#t41" transform="translate(358.45,446.00) scale(11.56)" stroke-width="0.1166"/>
<use href="#t41" transform="translate(348.03,338.89) scale(13.95)" stroke-width="0.1107"/>
<use href="#t41" transform="translate(241.70,404.09) scale(11.49)" stroke-width="0.1168"/>
<use href="#t41" transform="translate(485.64,352.86) scale(13.95)" stroke-width="0.1107"/>
<use href="#t41" transform="translate(275.05,436.69) scale(11.09)" stroke-width="0.1181"/>
<use href="#t41" transform="translate(375.14,385.46) scale(13.95)" stroke-width="0.1107"/>
<use href="#t41" transform="translate(425.18,380.81) scale(12.42)" stroke-width="0.1142"/>
<use href="#t41" transform="translate(410.58,348.21) scale(15.30)" stroke-width="0.1081"/>
<use href="#t41" transform="translate(279.23,380.81) scale(11.33)" stroke-width="0.1173"/>
<use href="#t41" transform="translate(446.03,329.58) scale(13.95)" stroke-width="0.1107"/>
<use href="#t41" transform="translate(335.52,432.03) scale(10.46)" stroke-width="0.1203"/>
<use href="#t41" transform="translate(521.09,343.55) scale(15.00)" stroke-width="0.1087"/>
<use href="#t41" transform="translate(300.08,357.52) scale(12.03)" stroke-width="0.1152"/>
<use href="#t41" transform="translate(389.73,334.24) scale(15.45)" stroke-width="0.1079"/>
<use href="#t41" transform="translate(356.37,450.66) scale(12.19)" stroke-width="0.1148"/>
<use href="#t41" transform="translate(348.03,422.72) scale(11.96)" stroke-width="0.1155"/>
<use href="#t41" transform="translate(423.09,357.52) scale(14.70)" stroke-width="0.1092"/>
<use href="#t41" transform="translate(314.67,399.43) scale(13.04)" stroke-width="0.1127"/>
<use href="#t41" transform="translate(412.66,338.89) scale(13.65)" stroke-width="0.1113"/>
</g></g>
</svg></body></html>
